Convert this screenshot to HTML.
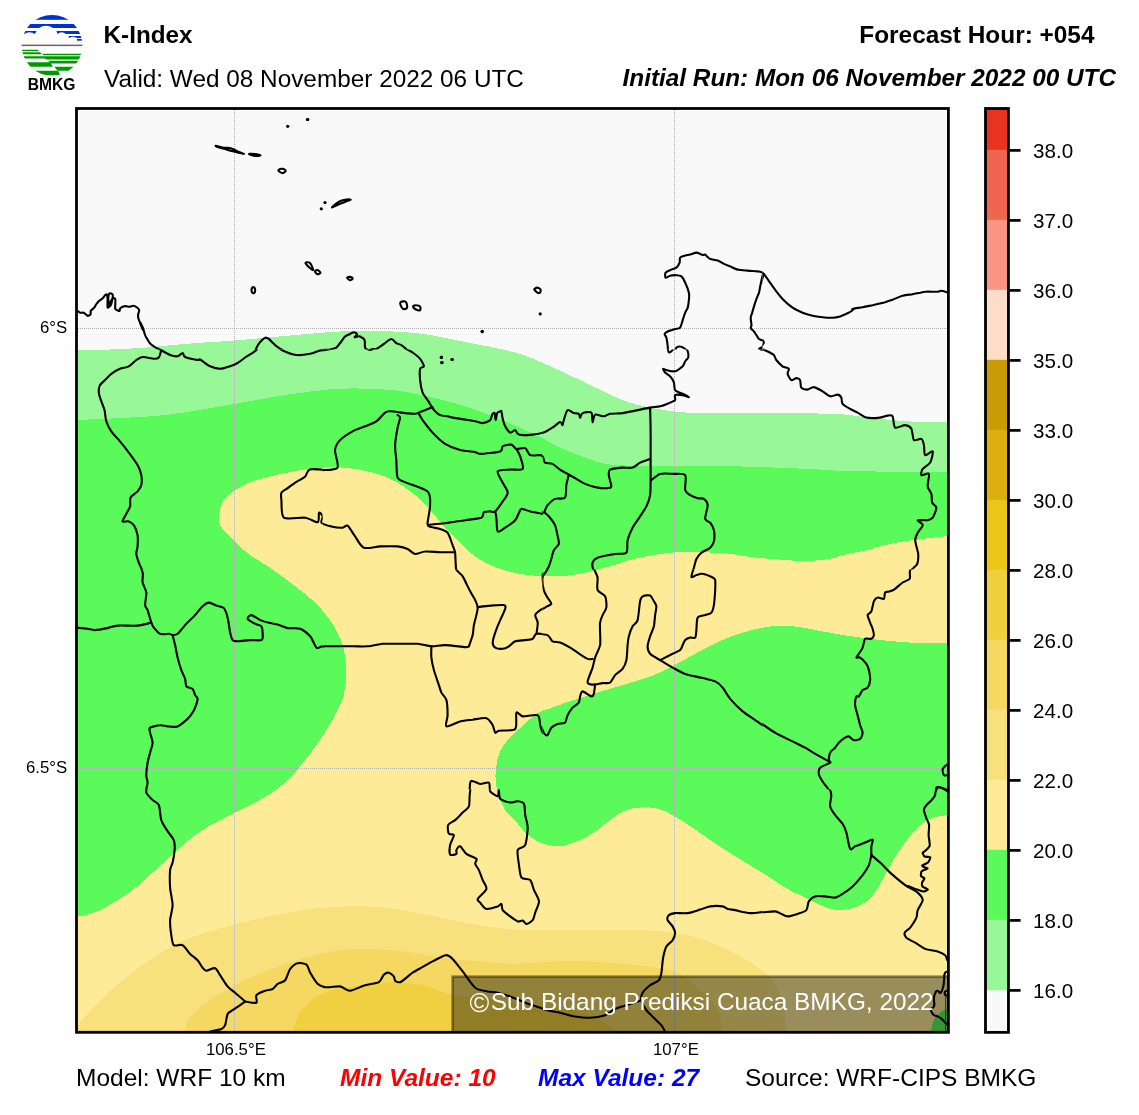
<!DOCTYPE html>
<html><head><meta charset="utf-8"><title>K-Index</title>
<style>
html,body{margin:0;padding:0;background:#fff;}
svg{display:block;}
text{font-family:"Liberation Sans",Arial,sans-serif;fill:#000;}
.t24{font-size:24.5px;}
.b{font-weight:bold;}
.i{font-style:italic;}
.cb{font-size:20.6px;}
.tk{font-size:16.8px;}
</style></head><body>
<svg width="1139" height="1115" viewBox="0 0 1139 1115">
<rect width="1139" height="1115" fill="#fff"/>

<defs><clipPath id="lc"><circle cx="52" cy="45.3" r="30.4"/></clipPath></defs>
<g clip-path="url(#lc)">
 <rect x="20" y="14" width="64" height="5.8" fill="#0033cc"/>
 <path d="M20,24 H84 V28.1 H53 Q46,23.5 39,28.1 H20 Z" fill="#0033cc"/>
 <path d="M20,31 H36.5 L35,34 Q29.5,30.5 24,34 H20 Z" fill="#0033cc"/>
 <path d="M56.5,31 H84 V34 H66 Q61.5,30.5 57.5,34 Z" fill="#0033cc"/>
 <path d="M68.5,36.1 H84 V38 H77 Q73,35.5 69,38 Z" fill="#0033cc"/>
 <rect x="77" y="38.9" width="8" height="1.8" fill="#0033cc"/>
 <rect x="20" y="44.6" width="64" height="1.5" fill="#666"/>
 <path d="M20,49.8 H37.8 L39,51 H20 Z" fill="#009900"/>
 <path d="M20,52.2 H40 L42,54.2 H20 Z" fill="#009900"/>
 <path d="M42,53.8 H84 V55.2 H43.5 Z" fill="#009900"/>
 <path d="M20,56.3 H84 V59.5 H46 L45,58.6 H20 Z" fill="#009900"/>
 <path d="M48,60.7 H84 V63.5 H51 Z" fill="#009900"/>
 <path d="M20,62.3 H50.5 L52.8,66.7 H20 Z" fill="#009900"/>
 <path d="M54.4,66.7 H84 V70.8 H57.5 Z" fill="#009900"/>
 <path d="M20,70.8 H58 L60.4,75.5 H20 Z" fill="#009900"/>
</g>
<text x="51.7" y="89.7" text-anchor="middle" style="font:bold 15.6px 'Liberation Sans',sans-serif">BMKG</text>

<text x="103.5" y="43" class="t24 b" style="font-size:24.3px">K-Index</text>
<text x="104" y="86.6" class="t24" style="font-size:24.35px">Valid: Wed 08 November 2022 06 UTC</text>
<text x="1094.5" y="42.8" class="t24 b" text-anchor="end" style="font-size:24.4px">Forecast Hour: +054</text>
<text x="1116" y="85.8" class="t24 b i" text-anchor="end" style="font-size:24.33px">Initial Run: Mon 06 November 2022 00 UTC</text>
<g id="map">
<g shape-rendering="crispEdges"><rect x="79.2" y="111.3" width="866.4" height="918.3" fill="#f9f9f9"/>
<path d="M78.0,350.5 C83.3,350.3 99.7,349.9 110.0,349.5 C120.3,349.1 131.7,348.5 140.0,348.0 C148.3,347.5 152.5,347.0 160.0,346.3 C167.5,345.6 178.3,344.6 185.0,344.0 C191.7,343.4 191.7,343.4 200.0,342.8 C208.3,342.2 220.0,341.7 235.0,340.5 C250.0,339.3 270.4,337.1 290.0,335.5 C309.6,333.9 331.7,331.4 352.5,331.0 C373.3,330.6 396.2,331.2 415.0,333.0 C433.8,334.8 448.3,338.8 465.0,342.0 C481.7,345.2 501.2,348.7 515.0,352.5 C528.8,356.3 535.8,360.0 547.5,365.0 C559.2,370.0 572.5,376.7 585.0,382.5 C597.5,388.3 611.7,395.8 622.5,400.0 C633.3,404.2 639.6,405.4 650.0,407.5 C660.4,409.6 671.7,411.6 685.0,412.5 C698.3,413.4 705.8,412.8 730.0,413.0 C754.2,413.2 807.1,413.0 830.0,413.8 C852.9,414.5 855.0,416.2 867.5,417.5 C880.0,418.8 891.8,420.4 905.0,421.2 C918.2,422.1 940.0,422.3 947.0,422.5 L947.0,1031.0 L78.0,1031.0 Z" fill="#98f898"/>
<path d="M78.0,420.0 C85.0,419.7 104.7,418.9 120.0,418.0 C135.3,417.1 150.8,416.9 170.0,414.5 C189.2,412.1 214.7,407.2 235.0,403.8 C255.3,400.3 274.5,396.5 292.0,394.0 C309.5,391.5 324.5,389.5 340.0,388.8 C355.5,388.0 372.5,388.7 385.0,389.5 C397.5,390.3 401.7,391.0 415.0,393.8 C428.3,396.5 449.2,401.3 465.0,406.2 C480.8,411.2 498.0,418.6 510.0,423.5 C522.0,428.4 528.7,431.5 537.0,435.5 C545.3,439.5 552.0,443.8 560.0,447.5 C568.0,451.2 576.7,454.7 585.0,457.5 C593.3,460.3 599.2,463.1 610.0,464.5 C620.8,465.9 630.0,465.5 650.0,465.8 C670.0,466.0 704.2,465.8 730.0,466.2 C755.8,466.8 784.2,467.9 805.0,468.8 C825.8,469.6 831.3,470.8 855.0,471.2 C878.7,471.8 931.7,471.7 947.0,471.8 L947.0,1031.0 L78.0,1031.0 Z" fill="#5afa5a"/>
<path d="M78.0,916.5 C80.0,916.0 85.1,915.5 90.0,913.8 C94.9,912.0 100.4,910.2 107.5,906.2 C114.6,902.3 125.0,895.6 132.5,890.0 C140.0,884.4 145.4,878.8 152.5,872.5 C159.6,866.2 167.9,858.8 175.0,852.5 C182.1,846.2 187.5,840.4 195.0,835.0 C202.5,829.6 211.7,824.6 220.0,820.0 C228.3,815.4 236.7,811.8 245.0,807.5 C253.3,803.2 262.5,798.9 270.0,794.0 C277.5,789.1 284.2,783.7 290.0,778.0 C295.8,772.3 300.0,766.3 305.0,760.0 C310.0,753.7 315.0,747.5 320.0,740.0 C325.0,732.5 331.0,722.5 335.0,715.0 C339.0,707.5 341.9,702.1 343.8,695.0 C345.6,687.9 346.0,679.2 346.2,672.5 C346.5,665.8 346.0,660.8 345.0,655.0 C344.0,649.2 342.5,643.3 340.0,637.5 C337.5,631.7 334.2,625.8 330.0,620.0 C325.8,614.2 320.8,608.2 315.0,602.5 C309.2,596.8 302.2,591.6 295.0,586.0 C287.8,580.4 279.5,574.2 272.0,569.0 C264.5,563.8 255.7,559.1 250.0,555.0 C244.3,550.9 241.8,547.8 238.0,544.3 C234.2,540.8 229.9,537.0 227.0,534.0 C224.1,531.0 221.8,528.8 220.5,526.0 C219.2,523.2 218.9,520.0 218.9,517.0 C218.9,514.0 219.7,510.8 220.5,508.0 C221.3,505.2 221.9,502.8 223.5,500.5 C225.1,498.2 227.6,496.0 230.0,494.0 C232.4,492.0 234.5,490.4 238.2,488.3 C241.9,486.2 246.8,483.4 252.0,481.5 C257.1,479.6 262.8,478.3 269.1,476.7 C275.4,475.1 283.6,473.3 290.0,472.0 C296.4,470.7 301.9,469.8 307.7,469.0 C313.5,468.2 318.6,467.7 325.0,467.5 C331.4,467.3 338.5,467.0 346.4,467.8 C354.3,468.6 364.4,470.3 372.5,472.5 C380.6,474.7 387.9,477.5 395.0,481.2 C402.1,485.0 409.2,490.2 415.0,495.0 C420.8,499.8 424.6,504.2 430.0,510.0 C435.4,515.8 442.8,525.0 447.5,530.0 C452.2,535.0 454.2,536.2 458.0,540.0 C461.8,543.8 464.7,548.3 470.0,552.5 C475.3,556.7 482.5,561.6 490.0,565.0 C497.5,568.4 506.2,571.1 515.0,573.0 C523.8,574.9 532.9,575.9 542.5,576.2 C552.1,576.6 561.2,576.7 572.5,575.0 C583.8,573.3 599.6,569.0 610.0,566.2 C620.4,563.5 624.6,561.0 635.0,558.8 C645.4,556.5 660.0,553.5 672.5,552.5 C685.0,551.5 700.4,552.3 710.0,552.5 C719.6,552.7 722.5,552.9 730.0,553.8 C737.5,554.6 744.6,556.4 755.0,557.5 C765.4,558.6 784.2,559.9 792.5,560.5 C800.8,561.1 798.8,561.5 805.0,561.2 C811.2,561.0 823.8,559.8 830.0,558.8 C836.2,557.7 836.2,556.5 842.5,555.0 C848.8,553.5 861.2,551.5 867.5,550.0 C873.8,548.5 873.8,547.7 880.0,546.2 C886.2,544.8 893.8,543.0 905.0,541.2 C916.2,539.5 940.0,536.9 947.0,536.0 L947.0,1031.0 L78.0,1031.0 Z" fill="#fdeb98"/>
<path d="M510.0,737.5 C514.2,733.8 527.9,720.0 535.0,715.0 C542.1,710.0 546.2,709.9 552.5,707.5 C558.8,705.1 562.9,703.6 572.5,700.5 C582.1,697.4 597.5,692.6 610.0,688.8 C622.5,684.9 637.1,681.2 647.5,677.5 C657.9,673.8 664.2,670.4 672.5,666.2 C680.8,662.1 689.2,656.9 697.5,652.5 C705.8,648.1 714.2,643.5 722.5,640.0 C730.8,636.5 739.2,633.5 747.5,631.2 C755.8,629.0 764.6,627.0 772.5,626.2 C780.4,625.5 789.3,626.2 794.8,626.5 C800.2,626.8 797.0,626.6 805.0,628.0 C813.0,629.4 830.0,633.0 842.5,635.0 C855.0,637.0 867.5,638.7 880.0,640.0 C892.5,641.3 906.3,642.4 917.5,643.0 C928.7,643.6 942.1,643.4 947.0,643.5 L947.0,815.0 C944.2,815.6 934.9,816.7 930.0,818.8 C925.1,820.8 921.7,823.5 917.5,827.5 C913.3,831.5 908.8,837.5 905.0,842.5 C901.2,847.5 898.3,852.1 895.0,857.5 C891.7,862.9 888.3,869.2 885.0,875.0 C881.7,880.8 878.3,887.9 875.0,892.5 C871.7,897.1 869.2,899.8 865.0,902.5 C860.8,905.2 855.8,907.7 850.0,908.8 C844.2,909.8 837.5,910.6 830.0,908.8 C822.5,906.9 812.5,901.0 805.0,897.5 C797.5,894.0 792.5,891.9 785.0,887.5 C777.5,883.1 768.3,876.5 760.0,871.2 C751.7,866.0 743.3,861.5 735.0,856.2 C726.7,851.0 718.3,845.6 710.0,840.0 C701.7,834.4 692.5,827.3 685.0,822.5 C677.5,817.7 670.8,813.8 665.0,811.2 C659.2,808.8 655.8,807.9 650.0,807.5 C644.2,807.1 635.8,807.3 630.0,808.8 C624.2,810.2 620.4,812.7 615.0,816.2 C609.6,819.8 603.3,826.0 597.5,830.0 C591.7,834.0 586.2,837.3 580.0,840.0 C573.8,842.7 566.7,845.8 560.0,846.2 C553.3,846.7 545.8,844.8 540.0,842.5 C534.2,840.2 529.2,836.2 525.0,832.5 C520.8,828.8 518.3,823.8 515.0,820.0 C511.7,816.2 507.9,814.6 505.0,810.0 C502.1,805.4 499.1,798.3 497.5,792.5 C495.9,786.7 495.4,780.9 495.5,775.0 C495.6,769.1 496.8,761.8 498.0,757.0 C499.2,752.2 501.0,749.2 503.0,746.0 C505.0,742.8 508.8,738.9 510.0,737.5 Z" fill="#5afa5a"/>
<path d="M78.0,1025.5 C81.7,1021.2 90.9,1008.8 100.0,1000.0 C109.1,991.2 121.7,980.8 132.5,972.5 C143.3,964.2 154.6,956.0 165.0,950.0 C175.4,944.0 183.8,940.4 195.0,936.2 C206.2,932.1 220.0,928.3 232.5,925.0 C245.0,921.7 258.8,918.7 270.0,916.2 C281.2,913.8 290.4,912.0 300.0,910.5 C309.6,909.0 316.7,908.2 327.5,907.5 C338.3,906.8 352.5,905.8 365.0,906.2 C377.5,906.7 390.0,908.1 402.5,910.0 C415.0,911.9 427.5,915.0 440.0,917.5 C452.5,920.0 465.0,923.0 477.5,925.0 C490.0,927.0 502.5,928.7 515.0,929.5 C527.5,930.3 540.8,929.9 552.5,930.0 C564.2,930.1 571.2,930.0 585.0,930.0 C598.8,930.0 620.4,929.6 635.0,930.0 C649.6,930.4 660.8,930.8 672.5,932.5 C684.2,934.2 695.4,936.9 705.0,940.0 C714.6,943.1 722.5,947.3 730.0,951.0 C737.5,954.7 743.8,958.0 750.0,962.0 C756.2,966.0 762.9,970.3 767.5,975.0 C772.1,979.7 774.8,984.6 777.5,990.0 C780.2,995.4 782.3,1000.7 783.8,1007.5 C785.2,1014.3 785.6,1027.1 786.0,1031.0 L786.0,1032.0 L78.0,1032.0 Z" fill="#f8e07c"/>
<path d="M185.0,1031.0 C185.8,1028.8 185.8,1022.7 190.0,1017.5 C194.2,1012.3 200.8,1006.2 210.0,1000.0 C219.2,993.8 232.9,985.8 245.0,980.0 C257.1,974.2 270.0,969.4 282.5,965.0 C295.0,960.6 308.0,956.4 320.0,953.8 C332.0,951.1 341.0,949.4 354.8,949.0 C368.5,948.6 388.3,949.8 402.5,951.2 C416.7,952.7 427.5,955.8 440.0,957.5 C452.5,959.2 465.0,960.2 477.5,961.2 C490.0,962.3 502.5,963.7 515.0,963.8 C527.5,963.8 540.8,961.9 552.5,961.5 C564.2,961.1 573.3,960.9 585.0,961.2 C596.7,961.6 610.8,962.7 622.5,963.8 C634.2,964.8 645.4,965.8 655.0,967.5 C664.6,969.2 672.5,970.0 680.0,973.8 C687.5,977.5 693.8,984.0 700.0,990.0 C706.2,996.0 713.8,1003.2 717.5,1010.0 C721.2,1016.8 721.7,1027.5 722.5,1031.0 L722.5,1032.0 L78.0,1032.0 Z" fill="#f4d862"/>
<path d="M293.0,1031.0 C294.2,1027.9 296.3,1018.1 300.0,1012.5 C303.7,1006.9 309.6,1001.2 315.0,997.5 C320.4,993.8 326.0,991.9 332.5,990.0 C339.0,988.1 344.4,987.5 354.0,986.2 C363.6,985.0 378.6,982.7 390.0,982.5 C401.4,982.3 412.1,982.9 422.5,985.0 C432.9,987.1 441.2,992.5 452.5,995.0 C463.8,997.5 477.1,998.3 490.0,1000.0 C502.9,1001.7 516.7,1003.3 530.0,1005.0 C543.3,1006.7 558.3,1007.5 570.0,1010.0 C581.7,1012.5 592.5,1016.5 600.0,1020.0 C607.5,1023.5 612.5,1029.2 615.0,1031.0 L615.0,1032.0 L78.0,1032.0 Z" fill="#f0d040"/>
<path d="M947.0,1009.0 C945.8,1009.6 942.2,1010.7 940.0,1012.5 C937.8,1014.3 935.2,1016.9 933.8,1020.0 C932.3,1023.1 931.7,1029.2 931.2,1031.0 L947.0,1031.0 Z" fill="#5afa5a"/></g>
<g stroke="#b0b0b0" stroke-width="1" stroke-dasharray="1,1" fill="none">
<line x1="234.5" y1="110" x2="234.5" y2="1031"/>
<line x1="674.5" y1="110" x2="674.5" y2="1031"/>
<line x1="78" y1="328.5" x2="947" y2="328.5"/>
<line x1="78" y1="768.5" x2="947" y2="768.5"/>
</g>
<defs><clipPath id="c0"><rect x="0" y="0" width="322.5" height="349.5"/></clipPath><clipPath id="c1"><rect x="322.5" y="0" width="220" height="349.5"/></clipPath><clipPath id="c2"><rect x="542.5" y="0" width="220" height="349.5"/></clipPath><clipPath id="c3"><rect x="762.5" y="0" width="376.5" height="349.5"/></clipPath><clipPath id="c4"><rect x="0" y="349.5" width="322.5" height="220"/></clipPath><clipPath id="c5"><rect x="322.5" y="349.5" width="220" height="220"/></clipPath><clipPath id="c6"><rect x="542.5" y="349.5" width="220" height="220"/></clipPath><clipPath id="c7"><rect x="762.5" y="349.5" width="376.5" height="220"/></clipPath><clipPath id="c8"><rect x="0" y="569.5" width="322.5" height="220"/></clipPath><clipPath id="c9"><rect x="322.5" y="569.5" width="220" height="220"/></clipPath><clipPath id="c10"><rect x="542.5" y="569.5" width="220" height="220"/></clipPath><clipPath id="c11"><rect x="762.5" y="569.5" width="376.5" height="220"/></clipPath><clipPath id="c12"><rect x="0" y="789.5" width="322.5" height="325.5"/></clipPath><clipPath id="c13"><rect x="322.5" y="789.5" width="220" height="325.5"/></clipPath><clipPath id="c14"><rect x="542.5" y="789.5" width="220" height="325.5"/></clipPath><clipPath id="c15"><rect x="762.5" y="789.5" width="376.5" height="325.5"/></clipPath></defs><g fill="none" stroke="#000" stroke-width="2.1" stroke-linejoin="round" stroke-linecap="round"><g clip-path="url(#c0)"><path d="M140.8,323.2 C141.1,323.9 142.5,326.6 143.1,328.2 C143.6,329.8 144.5,333.7 145.1,335.2 C145.7,336.7 146.8,338.5 147.6,339.7 C148.3,340.9 149.6,343.0 150.6,344.0 C151.6,345.0 153.8,346.4 155.1,347.2 C156.3,348.0 158.7,349.0 160.1,349.7 C161.4,350.5 163.7,352.0 165.1,352.7 C166.4,353.5 168.8,354.7 170.1,355.2 C171.4,355.7 173.8,356.3 175.1,356.5 C176.4,356.6 179.2,356.5 180.1,356.2 C181.0,355.9 181.6,354.6 182.1,354.2 C182.6,353.8 183.4,353.0 183.8,353.2 C184.3,353.4 184.9,355.2 185.6,355.7 C186.3,356.3 187.8,356.9 188.9,357.2 C190.0,357.6 192.7,358.0 193.9,358.2 C195.0,358.5 196.8,358.7 197.6,359.0 C198.4,359.2 199.1,359.7 200.1,360.2 C201.1,360.8 203.8,362.4 205.1,363.2 C206.5,364.1 208.8,365.8 210.1,366.5 C211.5,367.2 213.8,367.9 215.1,368.2 C216.5,368.6 218.8,368.9 220.1,369.0 C221.5,369.1 223.8,369.0 225.1,368.7 C226.5,368.5 228.8,367.7 230.1,367.2 C231.5,366.8 233.8,366.0 235.1,365.2 C236.5,364.5 238.8,362.5 240.1,361.5 C241.5,360.5 243.8,358.6 245.2,357.7 C246.5,356.8 248.8,355.7 250.2,354.7 C251.5,353.7 254.1,351.6 255.2,350.2 C256.2,348.9 257.3,346.0 258.2,344.7 C259.0,343.4 260.5,341.6 261.4,340.7 C262.4,339.8 264.2,337.9 265.2,337.7 C266.2,337.5 267.9,338.3 268.9,339.0 C269.9,339.6 271.5,341.6 272.7,342.7 C273.8,343.8 276.3,346.2 277.7,347.2 C279.0,348.2 281.4,349.5 282.7,350.2 C284.0,351.0 286.4,352.1 287.7,352.7 C289.0,353.3 291.4,354.4 292.7,354.7 C294.0,355.1 296.2,355.2 297.7,355.2 C299.2,355.2 302.3,354.9 304.0,354.7 C305.6,354.6 308.7,354.3 310.2,354.0 C311.7,353.6 313.9,352.7 315.2,352.2 C316.5,351.7 318.7,350.6 320.2,350.2 C321.7,349.9 324.8,349.7 326.5,349.5 C328.1,349.3 331.3,349.1 332.7,348.7 C334.2,348.3 336.1,347.3 337.2,346.5 C338.4,345.6 340.4,343.4 341.5,342.2 C342.6,341.0 344.2,338.3 345.2,337.2 C346.2,336.1 348.0,334.6 349.0,334.0 C350.0,333.3 351.9,332.4 352.7,332.2 C353.5,332.0 354.7,332.6 355.0,332.7"/><path d="M161.3,350.2 C161.2,350.7 160.4,353.1 160.1,354.0 C159.7,354.8 159.5,355.9 158.8,356.5 C158.2,357.1 156.4,358.3 155.1,358.5 C153.7,358.6 150.5,357.9 148.8,357.7 C147.2,357.6 143.9,357.2 142.6,357.2 C141.2,357.3 139.6,357.8 138.8,358.2 C138.0,358.6 137.1,359.6 136.3,360.2 C135.5,360.9 133.6,362.4 132.6,363.2 C131.6,364.1 130.1,365.8 128.8,366.5 C127.5,367.2 124.0,367.8 122.5,368.5 C121.0,369.2 118.9,370.8 117.5,371.5 C116.2,372.2 113.9,373.2 112.5,374.0 C111.2,374.8 108.2,377.2 107.5,377.7"/></g>
<path d="M215.9,145.8 C216.7,145.9 220.3,147.2 222.6,147.5 C225.0,147.9 228.3,147.7 230.1,148.0 C232.0,148.4 232.6,149.0 233.9,149.5 C235.1,150.1 236.0,150.8 237.6,151.5 C239.3,152.3 243.5,153.5 243.9,153.8 C244.3,154.0 242.0,153.5 240.1,153.0 C238.3,152.6 235.1,152.0 232.6,151.3 C230.1,150.6 227.6,149.8 225.1,149.0 C222.6,148.3 219.2,147.6 217.6,147.0 C216.1,146.5 215.0,145.7 215.9,145.8Z"/><path d="M249.7,153.8 C250.6,153.7 253.3,153.8 255.2,154.0 C257.0,154.3 260.7,155.0 260.7,155.3 C260.7,155.6 257.0,156.2 255.2,156.0 C253.3,155.9 250.6,154.9 249.7,154.5 C248.7,154.2 248.7,153.9 249.7,153.8Z"/><path d="M278.9,169.6 C279.6,169.1 281.6,168.6 282.7,168.8 C283.8,169.0 285.7,170.1 285.7,170.8 C285.7,171.5 283.8,173.0 282.7,173.1 C281.6,173.1 279.6,171.9 278.9,171.3 C278.3,170.7 278.3,170.0 278.9,169.6Z"/><path d="M251.9,288.2 C252.2,287.3 253.4,286.8 253.9,287.2 C254.5,287.5 255.2,289.2 255.2,290.2 C255.2,291.2 254.5,292.8 253.9,293.2 C253.4,293.5 252.2,293.0 251.9,292.2 C251.6,291.3 251.6,289.0 251.9,288.2Z"/><circle cx="287.7" cy="126.3" r="1.6" fill="#000" stroke="none"/><circle cx="307.7" cy="119.5" r="1.6" fill="#000" stroke="none"/>
<g clip-path="url(#c1)"><path d="M290.0,353.2 C291.3,353.5 297.3,355.1 300.0,355.2 C302.7,355.3 307.3,354.6 310.0,354.0 C312.7,353.3 317.4,350.8 320.0,350.2 C322.7,349.6 327.9,349.8 330.0,349.5 C332.2,349.1 334.8,348.8 336.3,347.7 C337.8,346.6 340.1,343.0 341.3,341.5 C342.5,340.0 343.9,337.5 345.0,336.5 C346.2,335.5 348.9,334.5 350.1,334.0 C351.2,333.4 352.9,332.2 353.8,332.2 C354.7,332.2 357.0,333.3 357.1,334.0 C357.2,334.6 354.6,336.9 354.6,337.2 C354.6,337.5 356.3,336.6 357.1,336.5 C357.8,336.4 359.1,336.0 360.1,336.5 C361.1,337.0 363.9,338.7 364.6,340.2 C365.2,341.7 364.5,346.4 365.1,347.7 C365.6,349.1 367.8,350.1 368.8,350.2 C369.8,350.4 371.6,349.1 372.6,349.0 C373.6,348.8 374.8,349.6 376.3,349.0 C377.8,348.3 381.8,345.3 383.8,344.0 C385.8,342.6 389.7,339.1 391.3,339.0 C393.0,338.9 395.0,342.4 396.3,343.2 C397.7,344.0 399.8,344.3 401.3,345.2 C402.8,346.1 405.9,348.9 407.6,350.2 C409.3,351.6 412.2,353.9 413.9,355.2 C415.5,356.6 418.8,358.7 420.1,360.2 C421.4,361.7 423.2,365.5 423.9,366.5 C424.5,367.5 425.6,367.2 425.1,367.7 C424.6,368.2 420.8,368.7 420.1,370.2 C419.4,371.7 419.7,377.8 419.6,379.0"/></g>
<path d="M332.0,207.6 C331.6,207.4 335.6,203.8 337.5,202.6 C339.5,201.3 341.6,200.6 343.8,200.1 C346.0,199.6 350.1,199.4 350.6,199.6 C351.0,199.8 348.1,200.6 346.3,201.3 C344.5,202.0 342.4,202.8 340.0,203.8 C337.7,204.9 332.5,207.8 332.0,207.6Z"/><path d="M305.5,263.1 C305.4,262.2 308.4,262.1 309.5,262.6 C310.6,263.2 311.4,265.1 312.0,266.4 C312.6,267.6 313.4,269.9 313.0,270.1 C312.7,270.4 311.3,269.3 310.0,268.1 C308.8,267.0 305.6,264.1 305.5,263.1Z"/><path d="M315.0,271.4 C315.0,270.7 316.6,269.9 317.5,270.1 C318.4,270.4 320.5,272.0 320.5,272.7 C320.5,273.3 318.4,274.4 317.5,274.2 C316.6,273.9 315.0,272.1 315.0,271.4Z"/><path d="M347.1,277.7 C347.1,277.1 349.1,276.7 350.1,276.9 C351.0,277.1 352.6,278.1 352.6,278.7 C352.6,279.2 351.0,280.3 350.1,280.2 C349.1,280.0 347.1,278.2 347.1,277.7Z"/><path d="M400.6,302.2 C401.4,301.6 404.5,300.8 405.6,301.7 C406.7,302.6 407.5,306.5 407.1,307.7 C406.7,308.9 404.2,309.4 403.1,308.9 C402.0,308.5 401.0,306.3 400.6,305.2 C400.2,304.1 399.8,302.8 400.6,302.2Z"/><path d="M413.1,306.4 C413.1,305.7 415.2,305.1 416.4,305.2 C417.5,305.2 419.5,305.8 420.1,306.7 C420.7,307.5 420.7,309.7 420.1,310.2 C419.5,310.7 417.5,310.3 416.4,309.7 C415.2,309.1 413.1,307.2 413.1,306.4Z"/><path d="M534.7,288.9 C535.2,288.5 536.7,287.5 537.7,287.7 C538.7,287.9 540.5,289.2 540.7,290.2 C540.9,291.1 540.0,293.2 539.0,293.2 C538.0,293.2 535.4,290.9 534.7,290.2 C534.0,289.5 534.2,289.3 534.7,288.9Z"/><circle cx="307.5" cy="119.5" r="1.6" fill="#000" stroke="none"/><circle cx="321.3" cy="208.8" r="1.6" fill="#000" stroke="none"/><circle cx="325.0" cy="202.6" r="1.6" fill="#000" stroke="none"/><circle cx="540.2" cy="313.9" r="1.6" fill="#000" stroke="none"/><circle cx="482.2" cy="331.7" r="1.6" fill="#000" stroke="none"/><circle cx="441.4" cy="357.2" r="1.6" fill="#000" stroke="none"/><circle cx="441.9" cy="362.7" r="1.6" fill="#000" stroke="none"/><circle cx="452.1" cy="359.5" r="1.6" fill="#000" stroke="none"/>
<g clip-path="url(#c2)"><path d="M663.1,368.2 C663.4,368.5 664.2,369.9 665.1,370.2 C666.1,370.6 668.8,370.9 670.1,370.7 C671.5,370.6 673.8,369.5 675.1,369.0 C676.5,368.5 679.1,367.9 680.1,367.2 C681.2,366.6 682.0,364.7 682.7,364.0 C683.3,363.2 684.4,362.3 685.2,361.5 C685.9,360.6 687.8,358.9 688.2,357.7 C688.6,356.6 688.6,353.9 688.2,352.7 C687.8,351.6 686.2,349.8 685.2,349.0 C684.1,348.1 681.3,346.6 680.1,346.5 C679.0,346.3 677.1,347.2 676.4,347.7 C675.7,348.2 676.0,349.6 675.1,350.2 C674.3,350.9 671.1,352.7 670.1,352.7 C669.2,352.7 668.5,351.2 668.1,350.2 C667.8,349.2 667.9,346.9 667.6,345.2 C667.4,343.5 666.8,339.2 666.4,337.7 C666.0,336.2 664.5,334.8 664.6,334.0 C664.8,333.1 666.7,332.0 667.6,331.5 C668.5,331.0 670.4,330.5 671.4,330.2 C672.4,329.9 674.0,329.3 675.1,329.0 C676.3,328.6 679.1,328.9 680.1,327.7 C681.2,326.5 682.0,322.2 682.7,320.2 C683.3,318.2 684.5,314.4 685.2,312.7 C685.8,311.0 687.2,309.4 687.7,307.7 C688.2,306.0 688.7,302.2 688.9,300.2 C689.1,298.2 689.4,295.0 688.9,292.7 C688.4,290.3 686.2,284.8 685.2,282.7 C684.2,280.5 682.6,277.4 681.4,276.4 C680.2,275.4 677.9,275.3 676.4,275.2 C674.9,275.1 671.6,275.3 670.1,275.7 C668.7,276.0 666.2,278.1 665.6,277.7 C665.0,277.3 664.9,273.7 665.6,272.7 C666.4,271.6 670.0,270.3 671.4,269.6 C672.8,269.0 675.3,268.6 676.4,267.6 C677.5,266.7 679.1,264.0 679.6,262.6 C680.1,261.3 679.4,258.6 680.1,257.6 C680.9,256.7 683.8,256.0 685.2,255.6 C686.5,255.2 688.7,255.0 690.2,254.6 C691.7,254.2 695.1,252.7 696.4,252.6 C697.7,252.5 699.3,253.6 700.2,253.9 C701.0,254.2 702.0,255.0 702.7,255.1 C703.3,255.2 704.5,254.4 705.2,254.6 C705.8,254.9 707.0,256.6 707.7,257.1 C708.3,257.7 708.8,258.4 710.2,258.9 C711.5,259.4 715.8,260.0 717.7,260.6 C719.5,261.3 722.3,263.1 723.9,263.9 C725.6,264.7 728.4,265.6 730.2,266.4 C732.0,267.2 735.4,269.1 737.7,269.6 C740.0,270.2 745.0,270.4 747.7,270.6 C750.4,270.9 755.7,271.1 757.7,271.4 C759.7,271.7 761.4,271.7 762.7,272.7 C764.1,273.7 766.4,277.1 767.7,278.9 C769.1,280.7 771.4,284.5 772.7,286.4 C774.1,288.3 776.4,291.5 777.7,293.2 C779.1,294.8 781.4,297.5 782.7,298.9 C784.1,300.4 786.1,302.7 787.7,303.9 C789.4,305.2 794.0,307.6 795.0,308.2"/><path d="M763.2,273.2 C763.0,274.1 761.9,278.4 761.5,280.2 C761.1,281.9 760.6,284.7 760.2,286.4 C759.9,288.1 759.5,291.0 759.0,292.7 C758.5,294.3 757.1,297.1 756.5,298.9 C755.8,300.8 754.5,304.6 754.0,306.4 C753.4,308.3 752.6,311.2 752.2,312.7 C751.8,314.2 750.8,316.0 750.7,317.7 C750.6,319.4 751.5,323.8 751.5,325.2 C751.5,326.6 750.4,327.4 750.7,328.2 C751.0,329.0 753.2,330.5 754.0,331.5 C754.7,332.4 755.8,334.2 756.5,335.2 C757.1,336.2 758.0,338.1 759.0,339.0 C760.0,339.8 763.5,340.5 764.0,341.5 C764.5,342.5 763.4,345.5 762.7,346.5 C762.1,347.5 758.6,348.5 759.0,349.0 C759.3,349.5 763.7,349.7 765.2,350.2 C766.7,350.7 769.1,352.1 770.2,352.7 C771.4,353.4 773.1,354.2 774.0,355.2 C774.8,356.2 775.6,359.1 776.5,360.2 C777.3,361.4 779.4,362.8 780.2,364.0 C781.1,365.1 781.9,368.2 782.7,369.0 C783.6,369.8 785.7,369.7 786.5,370.2 C787.3,370.7 788.2,371.9 789.0,372.7 C789.8,373.6 791.9,375.8 792.7,376.5 C793.5,377.2 794.7,377.6 795.0,377.7"/></g>

<g clip-path="url(#c3)"><path d="M730.0,265.6 C731.0,266.1 735.5,268.3 737.5,268.9 C739.5,269.5 742.7,269.8 745.0,270.1 C747.3,270.5 753.0,271.1 755.0,271.4 C757.0,271.7 758.9,271.8 760.0,272.2 C761.2,272.5 762.4,272.5 763.8,273.9 C765.1,275.3 768.4,280.3 770.0,282.7 C771.7,285.0 774.6,289.2 776.3,291.4 C778.0,293.6 780.4,296.8 782.5,298.9 C784.7,301.1 789.9,305.8 792.6,307.7 C795.2,309.5 799.9,311.6 802.6,312.7 C805.2,313.8 809.9,315.1 812.6,315.7 C815.2,316.3 819.9,316.9 822.6,317.2 C825.3,317.5 830.3,317.8 832.6,317.7 C834.9,317.6 838.1,317.0 840.1,316.4 C842.1,315.8 845.9,314.0 847.6,313.2 C849.3,312.4 851.9,310.8 852.6,310.2 C853.3,309.6 851.3,309.3 852.6,308.9 C853.9,308.5 859.9,307.7 862.6,307.2 C865.3,306.7 869.6,305.8 872.6,305.2 C875.6,304.5 882.5,302.9 885.1,302.2 C887.8,301.4 890.3,300.5 892.6,299.7 C895.0,298.8 900.0,296.4 902.7,295.7 C905.3,294.9 910.3,294.6 912.7,294.2 C915.0,293.8 918.5,293.0 920.2,292.7 C921.8,292.3 922.8,291.8 925.2,291.7 C927.5,291.5 935.5,291.8 937.7,291.7 C939.9,291.5 940.4,290.7 941.4,290.7 C942.4,290.7 944.3,291.4 945.2,291.7 C946.1,291.9 947.8,292.5 948.2,292.7"/><path d="M763.8,273.9 C763.4,275.1 761.8,280.2 761.3,282.7 C760.8,285.2 760.7,290.3 760.0,292.7 C759.4,295.0 757.1,298.0 756.3,300.2 C755.4,302.3 754.4,306.6 753.8,308.9 C753.1,311.3 751.6,315.2 751.3,317.7 C750.9,320.2 750.8,325.7 751.3,327.7 C751.8,329.7 754.2,331.4 755.0,332.7 C755.9,334.0 756.5,336.7 757.5,337.7 C758.5,338.7 761.7,339.5 762.5,340.2 C763.4,340.9 763.9,341.9 763.8,342.7 C763.6,343.5 761.8,345.6 761.3,346.5 C760.8,347.3 759.5,348.5 760.0,349.0 C760.5,349.5 763.4,349.6 765.0,350.2 C766.7,350.9 771.0,352.6 772.5,354.0 C774.0,355.3 775.1,358.7 776.3,360.2 C777.5,361.7 780.1,364.1 781.3,365.2 C782.5,366.4 784.0,368.3 785.0,369.0 C786.0,369.7 788.1,369.6 788.8,370.2 C789.5,370.9 789.6,373.1 790.1,374.0 C790.6,374.9 791.6,376.7 792.6,377.2 C793.6,377.7 796.2,377.5 797.6,377.7 C798.9,378.0 801.9,378.8 802.6,379.0"/></g>

<g clip-path="url(#c4)"><path d="M161.3,350.0 C161.0,351.0 159.8,356.4 158.8,357.5 C157.8,358.7 156.0,358.9 153.8,358.8 C151.7,358.7 144.9,356.9 142.6,357.0 C140.2,357.2 138.1,358.8 136.3,360.0 C134.5,361.3 131.0,365.1 128.8,366.3 C126.6,367.5 122.4,367.8 120.0,368.8 C117.7,369.8 113.3,372.3 111.3,373.8 C109.3,375.3 106.5,378.6 105.0,380.1 C103.5,381.6 100.9,383.4 100.0,385.1 C99.2,386.7 98.6,390.4 98.8,392.6 C98.9,394.7 100.5,399.0 101.3,401.3 C102.0,403.7 103.9,407.4 104.5,410.1 C105.2,412.7 105.4,418.5 106.3,421.3 C107.2,424.2 109.5,428.7 111.3,431.3 C113.1,434.0 117.7,438.5 120.0,441.4 C122.4,444.2 126.5,449.4 128.8,452.6 C131.1,455.8 135.9,462.1 137.6,465.1 C139.2,468.1 140.8,472.5 141.3,475.1 C141.8,477.8 141.8,483.0 141.3,485.1 C140.8,487.3 138.9,489.9 137.6,491.4 C136.2,492.9 132.3,495.2 131.3,496.4 C130.3,497.6 130.2,498.8 130.1,500.2 C129.9,501.5 130.6,504.6 130.1,506.4 C129.6,508.2 127.3,511.9 126.3,513.9 C125.3,515.9 122.2,520.4 122.5,521.4 C122.9,522.4 127.3,520.9 128.8,521.4 C130.3,521.9 132.6,523.3 133.8,525.2 C135.0,527.0 137.1,532.4 137.6,535.2 C138.1,538.0 137.7,543.9 137.6,546.4 C137.4,549.0 136.1,551.8 136.3,554.0 C136.5,556.1 138.0,560.4 138.8,562.7 C139.6,565.0 142.1,569.1 142.6,571.5 C143.1,573.8 142.2,578.2 142.6,580.2 C142.9,582.2 144.4,584.1 145.1,586.5 C145.7,588.8 147.2,596.2 147.6,597.7"/><path d="M137.6,320.0 C138.6,322.0 143.4,331.8 145.1,335.0 C146.7,338.2 148.1,341.8 150.1,343.8 C152.1,345.7 157.4,348.0 160.1,349.5 C162.7,351.0 167.8,354.1 170.1,355.0 C172.4,355.9 175.9,356.5 177.6,356.3 C179.3,356.0 181.6,352.9 182.6,353.0 C183.6,353.1 183.1,356.1 185.1,357.0 C187.1,358.0 195.6,359.7 197.6,360.0 C199.6,360.4 198.4,358.7 200.1,359.5 C201.8,360.4 207.5,365.1 210.1,366.3 C212.8,367.5 217.5,368.8 220.1,368.8 C222.8,368.8 227.8,367.1 230.1,366.3 C232.5,365.5 235.6,364.2 237.6,363.0 C239.6,361.9 242.7,359.3 245.2,357.5 C247.7,355.8 254.6,351.9 256.4,350.0 C258.2,348.2 257.7,345.4 258.9,343.8 C260.1,342.2 263.3,338.0 265.2,338.0 C267.0,338.0 270.3,342.1 272.7,343.8 C275.0,345.4 279.5,349.0 282.7,350.5 C285.9,352.0 292.8,354.6 296.4,355.0 C300.1,355.5 307.0,354.4 310.2,353.8 C313.4,353.2 317.2,351.2 320.2,350.5 C323.2,349.9 330.1,349.7 332.7,348.8 C335.4,347.9 338.2,345.6 340.2,343.8 C342.2,341.9 346.1,336.5 347.7,335.0 C349.4,333.5 352.1,332.8 352.7,332.5"/><path d="M355.0,430.1 C353.7,430.6 347.5,432.3 345.2,433.8 C342.9,435.4 339.1,439.4 337.7,441.4 C336.3,443.4 335.1,446.9 334.7,448.9 C334.4,450.9 334.8,453.9 335.2,456.4 C335.6,458.9 339.1,465.9 337.7,467.6 C336.4,469.4 329.0,469.4 325.2,469.6 C321.5,469.9 312.4,468.5 309.7,469.4 C307.0,470.3 307.1,474.6 305.2,476.4 C303.3,478.2 297.5,481.1 295.2,482.6 C292.9,484.2 289.5,486.8 287.7,488.1 C285.9,489.5 282.3,491.1 281.4,492.7 C280.6,494.3 281.1,496.8 281.4,500.2 C281.8,503.5 280.8,515.3 283.9,517.7 C287.1,520.0 300.7,517.1 305.2,517.7 C309.7,518.3 315.9,522.8 317.7,522.2 C319.6,521.5 318.3,513.4 319.0,512.7 C319.6,511.9 322.4,515.1 322.7,516.4 C323.1,517.8 320.5,521.5 321.5,522.7 C322.5,523.8 327.9,524.5 330.2,525.2 C332.6,525.8 336.8,527.6 339.0,527.7 C341.2,527.7 344.4,524.7 346.5,525.7 C348.6,526.6 353.9,533.5 355.0,534.7"/></g>

<g clip-path="url(#c5)"><path d="M290.0,353.8 C291.7,353.9 299.2,355.3 302.5,355.0 C305.8,354.8 312.4,352.6 315.0,352.0 C317.7,351.4 320.0,351.1 322.5,350.5 C325.0,350.0 331.1,349.4 333.8,348.0 C336.5,346.6 340.7,341.8 342.5,340.0 C344.4,338.2 346.2,335.5 347.6,334.5 C348.9,333.5 351.4,332.8 352.6,332.5 C353.7,332.2 355.6,331.8 356.3,332.0 C357.0,332.2 358.2,333.3 358.1,334.0 C358.0,334.7 355.5,336.7 355.6,337.0 C355.7,337.3 357.9,335.9 358.8,336.0 C359.7,336.1 361.7,336.6 362.6,337.5 C363.4,338.4 364.6,341.2 365.1,342.5 C365.6,343.9 365.6,346.5 366.3,347.5 C367.0,348.5 368.9,350.0 370.1,350.0 C371.2,350.1 373.4,348.9 375.1,348.0 C376.7,347.2 380.4,344.9 382.6,343.8 C384.7,342.6 389.7,339.7 391.3,339.5 C393.0,339.4 393.6,341.5 395.1,342.5 C396.6,343.5 400.3,345.7 402.6,347.0 C404.9,348.4 410.3,351.0 412.6,352.5 C414.9,354.1 418.6,356.9 420.1,358.8 C421.6,360.6 423.9,365.0 423.9,366.3 C423.9,367.6 420.6,367.0 420.1,368.8 C419.6,370.6 419.8,376.9 420.1,380.1 C420.4,383.2 421.6,389.9 422.6,392.6 C423.6,395.2 426.5,398.2 427.6,400.1 C428.8,401.9 430.4,404.8 431.4,406.3 C432.4,407.8 434.0,410.2 435.1,411.3 C436.3,412.5 438.5,414.4 440.1,415.1 C441.8,415.8 446.0,416.0 447.6,416.3 C449.3,416.7 450.3,417.2 452.6,417.6 C455.0,418.0 462.2,419.1 465.2,419.6 C468.2,420.1 472.8,420.9 475.2,421.3 C477.5,421.8 480.7,423.3 482.7,423.1 C484.7,422.9 488.9,421.2 490.2,420.1 C491.4,419.0 491.6,415.5 492.2,414.6 C492.8,413.6 494.2,412.3 494.7,413.1 C495.1,413.8 495.3,420.1 495.7,420.1 C496.0,420.1 496.6,414.2 497.2,413.1 C497.7,411.9 499.1,411.8 499.7,411.6 C500.3,411.3 501.0,410.4 501.4,411.3 C501.8,412.3 502.2,416.8 502.7,418.8 C503.2,420.8 504.2,424.5 505.2,426.3 C506.2,428.2 508.9,432.1 510.2,432.6 C511.5,433.1 514.2,429.9 515.2,430.1 C516.2,430.3 516.7,433.2 517.7,433.8 C518.7,434.5 520.7,435.0 522.7,435.1 C524.7,435.2 530.0,434.9 532.7,434.6 C535.4,434.3 540.1,433.7 542.7,432.6 C545.4,431.5 550.4,427.8 552.7,426.3 C555.1,424.8 558.9,422.5 560.2,421.3 C561.6,420.2 562.1,418.8 562.7,417.6 C563.4,416.4 564.6,413.6 565.2,412.6 C565.9,411.5 566.9,409.6 567.7,409.6 C568.6,409.6 570.5,412.1 571.5,412.6 C572.5,413.0 574.5,413.0 575.0,413.1"/><path d="M290.0,486.4 C291.3,485.6 297.5,482.4 300.0,480.1 C302.5,477.9 305.8,471.0 308.8,469.6 C311.8,468.3 318.7,470.4 322.5,470.1 C326.4,469.9 335.9,470.3 337.5,467.6 C339.2,465.0 334.7,453.8 335.0,450.1 C335.4,446.4 337.7,442.6 340.0,440.1 C342.4,437.6 349.2,433.2 352.6,431.3 C355.9,429.5 361.9,427.7 365.1,426.3 C368.2,425.0 373.7,423.2 376.3,421.3 C379.0,419.5 383.2,413.9 385.1,412.6 C386.9,411.2 387.4,411.3 390.1,411.3 C392.8,411.4 401.8,412.7 405.1,413.1 C408.4,413.4 413.1,414.0 415.1,413.8 C417.1,413.7 417.8,413.0 420.1,412.1 C422.4,411.2 431.0,407.7 432.6,407.1"/><path d="M397.6,415.1 C397.9,415.4 400.1,415.9 400.1,417.6 C400.1,419.3 398.3,423.9 397.6,427.6 C396.9,431.3 395.3,440.8 395.1,445.1 C394.9,449.4 396.0,455.8 396.3,460.1 C396.7,464.5 396.4,474.7 397.6,477.6 C398.8,480.6 401.1,480.3 405.1,482.1 C409.1,484.0 424.3,488.3 427.6,491.4 C431.0,494.5 430.1,501.0 430.1,505.2 C430.1,509.3 427.8,519.8 427.6,522.7 C427.5,525.5 427.2,525.6 428.9,526.4 C430.5,527.3 437.6,528.1 440.1,528.9 C442.6,529.8 446.0,530.5 447.6,532.7 C449.3,534.9 451.6,542.5 452.6,545.2 C453.6,547.9 454.6,549.4 455.1,552.7 C455.6,556.0 455.4,567.2 456.4,570.2 C457.4,573.2 461.2,573.6 462.7,575.2 C464.2,576.9 466.7,580.7 467.7,582.7 C468.7,584.7 469.3,588.1 470.2,590.2 C471.0,592.4 473.4,597.8 473.9,599.0"/><path d="M418.9,413.8 C419.4,414.7 420.8,417.6 422.6,420.1 C424.5,422.6 429.6,429.4 432.6,432.6 C435.6,435.8 441.5,441.5 445.1,443.9 C448.8,446.2 456.1,449.0 460.1,450.1 C464.2,451.2 472.5,451.6 475.2,452.1 C477.8,452.6 476.8,454.0 480.2,453.9 C483.5,453.8 497.2,452.4 500.2,451.4 C503.2,450.4 501.2,447.3 502.7,446.4 C504.2,445.5 509.6,444.3 511.4,444.6 C513.3,444.9 514.6,448.4 516.4,448.9 C518.3,449.3 523.4,447.3 525.2,448.1 C527.0,448.9 528.2,454.2 530.2,455.1 C532.2,456.1 538.4,454.9 540.2,455.1 C542.1,455.4 543.3,456.1 544.0,457.1 C544.6,458.1 544.1,461.7 545.2,462.6 C546.4,463.5 550.7,463.2 552.7,463.9 C554.7,464.5 558.2,466.5 560.2,467.6 C562.2,468.8 565.8,471.6 567.7,472.6 C569.7,473.6 574.0,474.8 575.0,475.1"/><path d="M516.4,448.9 C516.9,449.9 519.4,453.7 520.2,456.4 C521.0,459.0 524.0,467.1 522.7,468.9 C521.4,470.6 513.5,469.3 510.2,469.6 C506.9,470.0 498.7,469.6 497.7,471.4 C496.7,473.1 501.4,479.8 502.7,482.6 C504.0,485.5 507.7,490.1 507.7,492.7 C507.7,495.2 504.4,498.9 502.7,501.4 C501.0,503.9 496.8,510.1 495.2,511.4 C493.5,512.8 491.7,511.3 490.2,511.4 C488.7,511.5 485.1,511.3 483.9,512.2 C482.8,513.0 483.9,516.6 481.4,517.7 C478.9,518.7 470.0,519.4 465.2,520.2 C460.3,520.9 450.0,522.6 445.1,523.2 C440.3,523.8 431.0,524.5 428.9,524.7"/><path d="M495.2,511.4 C495.3,512.3 496.1,515.0 496.4,517.7 C496.8,520.3 496.5,530.1 497.7,531.4 C498.8,532.8 502.9,529.2 505.2,527.7 C507.5,526.2 513.4,522.2 515.2,520.2 C517.0,518.2 518.1,514.2 519.0,512.7 C519.8,511.2 520.0,509.1 521.5,508.9 C523.0,508.7 527.4,510.8 530.2,511.4 C533.0,512.1 540.1,513.1 542.7,513.9 C545.4,514.8 548.7,516.5 550.2,517.7 C551.7,518.8 553.3,521.0 554.0,522.7 C554.6,524.3 554.7,528.2 555.2,530.2 C555.7,532.2 557.2,535.9 557.7,537.7 C558.2,539.5 559.3,542.4 559.0,543.9 C558.7,545.4 556.1,547.4 555.2,549.0 C554.4,550.5 553.2,553.4 552.7,555.2 C552.2,557.0 552.1,560.7 551.5,562.7 C550.8,564.7 548.7,568.4 547.7,570.2 C546.7,572.1 544.5,574.5 544.0,576.5 C543.5,578.5 543.6,582.4 544.0,585.2 C544.3,588.1 546.1,596.1 546.5,597.7"/><path d="M542.7,513.9 C543.1,512.9 544.2,508.1 545.2,506.4 C546.2,504.7 547.6,502.6 550.2,501.4 C552.9,500.2 562.9,501.2 565.2,497.7 C567.6,494.2 566.4,478.1 567.7,475.1 C569.0,472.1 574.0,475.1 575.0,475.1"/><path d="M290.0,517.7 C292.0,517.7 301.5,517.2 305.0,517.7 C308.5,518.2 314.4,521.9 316.3,521.4 C318.1,520.9 318.0,514.4 318.8,513.9 C319.5,513.4 321.7,516.5 322.0,517.7 C322.4,518.8 320.0,521.5 321.3,522.7 C322.5,523.8 328.5,525.8 331.3,526.4 C334.1,527.1 340.4,527.8 342.5,527.7 C344.7,527.6 345.9,524.5 347.6,525.7 C349.2,526.8 352.9,533.5 355.1,536.4 C357.2,539.4 360.5,546.4 363.8,547.7 C367.2,549.0 375.6,546.6 380.1,546.4 C384.6,546.3 393.9,546.1 397.6,546.4 C401.3,546.8 405.3,547.9 407.6,549.0 C409.9,550.0 412.8,553.6 415.1,554.0 C417.4,554.3 421.8,551.7 425.1,551.5 C428.5,551.2 436.1,552.1 440.1,552.2 C444.1,552.3 453.1,552.2 455.1,552.2"/></g>
<circle cx="482.2" cy="331.3" r="1.6" fill="#000" stroke="none"/><circle cx="441.4" cy="357.5" r="1.6" fill="#000" stroke="none"/><circle cx="441.9" cy="362.5" r="1.6" fill="#000" stroke="none"/><circle cx="452.1" cy="359.5" r="1.6" fill="#000" stroke="none"/>
<g clip-path="url(#c6)"><path d="M510.0,432.6 C510.7,432.1 513.7,428.7 515.0,428.8 C516.3,429.0 518.0,433.1 520.0,433.8 C522.0,434.6 527.0,434.7 530.0,434.6 C533.0,434.5 539.5,434.0 542.5,433.1 C545.5,432.2 550.2,429.1 552.5,427.6 C554.9,426.1 558.7,422.4 560.0,422.1 C561.4,421.8 562.0,425.4 562.5,425.1 C563.0,424.8 563.1,422.1 563.8,420.1 C564.5,418.1 566.2,411.0 567.6,410.1 C568.9,409.1 572.3,412.6 573.8,413.1 C575.3,413.6 578.0,413.2 578.8,413.8 C579.6,414.4 579.6,417.7 580.1,417.6 C580.6,417.5 581.1,413.7 582.6,413.1 C584.1,412.4 590.0,411.4 591.3,412.6 C592.7,413.8 592.1,421.8 592.6,422.1 C593.1,422.4 593.6,415.4 595.1,414.6 C596.6,413.8 601.8,416.4 603.8,416.3 C605.8,416.2 607.6,414.3 610.1,413.8 C612.6,413.4 619.3,413.5 622.6,413.1 C625.9,412.6 631.4,411.3 635.1,410.6 C638.8,409.8 646.8,408.1 650.1,407.6 C653.5,407.0 657.5,407.0 660.1,406.3 C662.8,405.7 668.1,403.4 670.1,402.6 C672.1,401.7 674.5,401.1 675.1,400.1 C675.8,399.1 674.1,395.7 675.1,395.1 C676.1,394.4 680.8,394.8 682.7,395.1 C684.5,395.3 688.9,397.2 688.9,397.1 C688.9,396.9 684.5,394.7 682.7,393.8 C680.8,392.9 676.3,391.6 675.1,390.1 C674.0,388.6 674.6,384.4 673.9,382.6 C673.2,380.7 671.3,377.6 670.1,376.3 C669.0,375.0 666.1,373.5 665.1,372.5 C664.2,371.5 663.0,369.1 663.1,368.8 C663.3,368.5 664.8,369.7 666.4,370.0 C668.0,370.4 673.0,371.8 675.1,371.3 C677.3,370.8 681.3,367.6 682.7,366.3 C684.0,365.0 684.4,362.5 685.2,361.3 C685.9,360.1 687.8,358.9 688.2,357.5 C688.5,356.2 688.1,352.6 687.7,351.3 C687.3,349.9 686.2,348.4 685.2,347.5 C684.2,346.7 681.5,345.2 680.1,345.0 C678.8,344.9 676.1,345.6 675.1,346.3 C674.1,346.9 673.5,349.2 672.6,350.0 C671.8,350.9 669.6,352.9 668.9,352.5 C668.2,352.2 668.0,349.4 667.6,347.5 C667.3,345.7 666.9,340.6 666.4,338.8 C665.9,336.9 663.7,334.9 663.9,333.8 C664.1,332.7 666.1,331.0 667.6,330.5 C669.1,330.0 673.5,330.6 675.1,330.0 C676.8,329.4 679.1,327.6 680.1,326.3 C681.2,324.9 682.3,320.8 682.7,320.0"/><path d="M650.1,407.6 C650.2,410.9 650.6,425.9 650.6,432.6 C650.7,439.3 650.6,451.3 650.6,457.6 C650.6,464.0 650.7,475.1 650.6,480.1 C650.6,485.1 650.7,491.7 650.1,495.2 C649.6,498.7 647.7,503.6 646.4,506.4 C645.0,509.2 641.9,513.6 640.1,516.4 C638.3,519.3 634.3,524.5 632.6,527.7 C630.9,530.9 628.4,536.9 627.6,540.2 C626.8,543.5 628.0,550.9 626.4,552.7 C624.7,554.5 618.9,553.3 615.1,554.0 C611.3,554.6 600.6,556.5 597.6,557.7 C594.6,558.9 593.1,560.9 592.6,562.7 C592.1,564.5 593.2,569.8 593.8,571.5 C594.4,573.1 596.6,572.7 597.1,575.2 C597.6,577.7 596.5,587.2 597.6,590.2 C598.6,593.2 604.1,596.7 605.1,597.7"/><path d="M650.1,458.9 C648.8,459.4 642.4,461.5 640.1,462.6 C637.8,463.8 634.9,467.0 632.6,467.6 C630.3,468.3 625.6,467.4 622.6,467.6 C619.6,467.9 611.9,468.6 610.1,469.6 C608.3,470.6 608.7,472.9 608.8,475.1 C609.0,477.4 611.5,484.7 611.3,486.4 C611.2,488.1 609.4,488.0 607.6,488.1 C605.8,488.3 600.6,488.2 597.6,487.6 C594.6,487.1 588.1,485.2 585.1,483.9 C582.1,482.6 577.2,479.4 575.1,478.1 C572.9,476.9 570.8,475.8 568.8,474.6 C566.8,473.5 562.2,471.1 560.0,469.6 C557.9,468.2 554.5,464.8 552.5,463.9 C550.5,462.9 546.4,463.6 545.0,462.6 C543.7,461.6 543.9,457.4 542.5,456.4 C541.2,455.4 536.7,455.1 535.0,455.1 C533.4,455.1 531.0,457.2 530.0,456.4 C529.0,455.5 528.8,450.0 527.5,448.9 C526.2,447.8 521.7,448.1 520.0,448.1 C518.3,448.1 516.3,449.3 515.0,448.9 C513.7,448.4 510.7,445.2 510.0,444.6"/><path d="M568.8,474.6 C568.5,476.0 566.8,482.1 566.3,485.1 C565.8,488.2 566.5,495.8 565.0,497.7 C563.5,499.5 557.4,497.9 555.0,498.9 C552.7,499.9 548.9,503.7 547.5,505.2 C546.2,506.7 545.7,509.2 545.0,510.2 C544.4,511.2 545.7,512.8 542.5,512.7 C539.4,512.5 524.4,508.6 521.3,508.9 C518.1,509.2 520.3,513.3 518.8,515.2 C517.3,517.0 511.2,521.7 510.0,522.7"/><path d="M545.0,512.7 C545.7,513.3 548.7,516.0 550.0,517.7 C551.4,519.3 554.0,522.8 555.0,525.2 C556.0,527.5 557.0,532.7 557.5,535.2 C558.0,537.7 559.3,541.9 558.8,543.9 C558.3,545.9 554.8,548.2 553.8,550.2 C552.8,552.2 552.0,556.8 551.3,559.0 C550.6,561.1 549.8,564.3 548.8,566.5 C547.8,568.6 544.6,573.1 543.8,575.2 C542.9,577.4 542.4,580.7 542.5,582.7 C542.7,584.7 544.4,588.2 545.0,590.2 C545.7,592.2 547.2,596.7 547.5,597.7"/><path d="M651.4,480.1 C652.5,479.3 657.3,474.7 660.1,473.9 C663.0,473.1 669.3,473.7 672.6,473.9 C676.0,474.1 683.5,473.0 685.2,475.1 C686.8,477.3 684.5,487.5 685.2,490.1 C685.8,492.8 688.5,494.1 690.2,495.2 C691.8,496.2 695.8,497.7 697.7,498.2 C699.5,498.7 702.6,498.0 703.9,498.9 C705.3,499.8 707.5,502.5 707.7,505.2 C707.8,507.8 704.8,516.6 705.2,518.9 C705.5,521.3 709.0,521.2 710.2,522.7 C711.3,524.2 713.4,527.7 713.9,530.2 C714.4,532.7 714.4,539.1 713.9,541.4 C713.4,543.8 711.8,546.2 710.2,547.7 C708.5,549.2 703.3,551.2 701.4,552.7 C699.6,554.2 697.4,557.0 696.4,559.0 C695.4,561.0 694.6,565.4 693.9,567.7 C693.2,570.1 690.4,575.6 691.4,576.5 C692.4,577.3 698.9,574.0 701.4,574.0 C703.9,574.0 708.5,575.6 710.2,576.5 C711.8,577.3 713.3,578.4 713.9,580.2 C714.6,582.1 715.0,587.7 715.2,590.2 C715.3,592.7 715.2,597.8 715.2,599.0"/><path d="M751.5,320.0 C751.5,321.2 750.5,326.9 751.5,328.8 C752.5,330.6 757.5,332.1 759.0,333.8 C760.5,335.4 762.6,339.3 762.7,341.3 C762.9,343.3 759.2,347.3 760.2,348.8 C761.2,350.3 768.2,351.4 770.2,352.5 C772.2,353.7 773.9,355.9 775.2,357.5 C776.6,359.2 778.9,363.5 780.2,365.0 C781.6,366.5 784.2,367.6 785.2,368.8 C786.2,370.0 786.9,372.3 787.7,373.8 C788.6,375.3 790.5,379.1 791.5,380.1 C792.5,381.1 794.5,381.1 795.0,381.3"/></g>

<g clip-path="url(#c7)"><path d="M751.3,320.0 C751.3,321.2 750.4,326.6 751.3,328.8 C752.1,330.9 756.0,334.8 757.5,336.3 C759.0,337.8 762.2,338.5 762.5,340.0 C762.9,341.5 759.4,346.0 760.0,347.5 C760.7,349.0 765.7,350.3 767.5,351.3 C769.4,352.3 772.6,353.9 773.8,355.0 C775.0,356.2 775.1,358.5 776.3,360.0 C777.5,361.5 780.9,365.1 782.5,366.3 C784.2,367.5 788.1,367.8 788.8,368.8 C789.5,369.8 787.2,372.3 787.6,373.8 C787.9,375.3 790.1,379.5 791.3,380.1 C792.5,380.6 795.1,378.1 796.3,378.1 C797.5,378.1 799.4,378.8 800.1,380.1 C800.7,381.3 800.3,386.3 801.3,387.6 C802.3,388.8 805.9,389.6 807.6,389.6 C809.2,389.5 811.8,386.8 813.8,387.1 C815.8,387.3 820.4,390.1 822.6,391.3 C824.7,392.5 828.1,395.9 830.1,396.3 C832.1,396.8 836.1,394.4 837.6,394.6 C839.1,394.7 840.7,396.3 841.3,397.6 C842.0,398.8 841.4,402.3 842.6,403.8 C843.8,405.3 848.1,407.7 850.1,408.8 C852.1,410.0 855.4,411.4 857.6,412.6 C859.8,413.7 863.4,416.9 866.4,417.6 C869.4,418.3 877.3,417.9 880.1,417.6 C883.0,417.3 886.0,415.8 887.6,415.6 C889.3,415.4 891.6,414.7 892.6,416.3 C893.6,417.9 893.5,426.4 895.1,427.6 C896.8,428.8 903.0,424.9 905.2,425.1 C907.3,425.3 910.2,426.8 911.4,428.8 C912.6,430.8 912.6,438.8 913.9,440.1 C915.2,441.4 920.1,438.2 921.4,438.9 C922.8,439.5 923.4,442.9 923.9,445.1 C924.4,447.3 924.0,454.3 925.2,455.1 C926.3,456.0 932.0,450.4 932.7,451.4 C933.3,452.4 931.5,460.3 930.2,462.6 C928.8,465.0 923.8,467.2 922.7,468.9 C921.5,470.5 920.6,474.5 921.4,475.1 C922.3,475.8 928.1,472.4 928.9,473.9 C929.8,475.4 927.3,483.7 927.7,486.4 C928.0,489.1 930.8,491.7 931.4,493.9 C932.0,496.1 931.5,500.8 932.2,502.7 C932.8,504.5 936.4,505.7 936.4,507.7 C936.5,509.7 933.8,516.0 932.7,517.7 C931.5,519.3 929.7,519.8 927.7,520.2 C925.7,520.5 918.3,519.5 917.7,520.2 C917.0,520.8 922.7,523.5 922.7,525.2 C922.7,526.8 918.7,530.7 917.7,532.7 C916.7,534.7 915.1,537.4 915.2,540.2 C915.2,543.0 917.9,550.8 918.2,554.0 C918.4,557.1 918.1,561.8 917.2,564.0 C916.3,566.1 912.4,568.2 911.4,570.2 C910.4,572.2 910.8,577.5 909.7,579.0 C908.5,580.5 904.6,580.3 902.7,581.5 C900.7,582.6 897.5,586.4 895.1,587.7 C892.8,589.1 886.8,590.5 885.1,591.5 C883.5,592.5 883.8,594.4 882.6,595.2 C881.5,596.1 877.2,597.4 876.4,597.7"/></g>

<g clip-path="url(#c8)"><path d="M137.6,540.0 C137.4,542.0 135.6,550.7 136.3,555.0 C137.0,559.4 141.7,568.9 142.6,572.5 C143.4,576.2 142.1,579.9 142.6,582.5 C143.1,585.2 146.0,589.5 146.3,592.5 C146.7,595.5 144.9,602.7 145.1,605.1 C145.2,607.4 146.7,607.7 147.6,610.1 C148.4,612.4 150.5,620.2 151.3,622.6 C152.2,624.9 152.7,626.1 153.8,627.6 C155.0,629.1 158.1,633.0 160.1,633.8 C162.1,634.7 167.2,633.7 168.8,633.8 C170.5,634.0 172.1,634.9 172.6,635.1"/><path d="M77.5,627.6 C78.8,627.7 85.2,628.5 87.5,628.8 C89.9,629.2 92.4,630.2 95.0,630.1 C97.7,630.0 104.5,628.7 107.5,628.1 C110.5,627.5 113.5,625.9 117.5,625.6 C121.5,625.2 133.1,626.0 137.6,625.6 C142.1,625.2 149.5,623.0 151.3,622.6"/><path d="M172.6,635.1 C173.3,634.9 175.9,635.2 177.6,633.8 C179.3,632.5 182.8,627.6 185.1,625.1 C187.4,622.6 192.8,617.6 195.1,615.1 C197.4,612.6 200.8,608.0 202.6,606.3 C204.5,604.6 207.0,602.7 208.9,602.6 C210.7,602.5 214.4,604.8 216.4,605.6 C218.4,606.3 222.4,606.5 223.9,608.1 C225.4,609.7 226.8,614.3 227.6,617.6 C228.5,620.8 229.5,629.6 230.1,632.6 C230.8,635.6 231.6,638.9 232.6,640.1 C233.6,641.3 235.3,641.3 237.6,641.3 C240.0,641.3 247.0,640.3 250.2,640.1 C253.3,639.9 259.7,640.8 261.4,640.1 C263.1,639.4 262.7,636.9 262.7,635.1 C262.7,633.2 262.4,627.8 261.4,626.3 C260.4,624.8 257.0,624.8 255.2,623.8 C253.3,622.8 248.2,620.0 247.7,618.8 C247.2,617.7 249.7,614.9 251.4,615.1 C253.1,615.2 257.7,619.0 260.2,620.1 C262.7,621.1 267.8,622.5 270.2,623.1 C272.5,623.7 275.3,623.9 277.7,624.6 C280.0,625.2 284.7,627.5 287.7,628.1 C290.7,628.6 297.2,627.7 300.2,628.8 C303.2,629.9 308.0,633.8 310.2,636.3 C312.4,638.8 314.8,646.3 316.5,647.6 C318.1,648.9 320.2,646.5 322.7,646.3 C325.2,646.2 330.9,646.3 335.2,646.3 C339.5,646.3 352.4,646.3 355.0,646.3"/><path d="M172.6,635.1 C172.9,636.4 174.4,642.1 175.1,645.1 C175.8,648.1 176.8,654.3 177.6,657.6 C178.4,660.9 180.3,667.3 181.3,670.1 C182.3,672.9 184.4,676.7 185.1,678.9 C185.8,681.0 185.4,685.0 186.4,686.4 C187.4,687.7 191.4,687.7 192.6,688.9 C193.8,690.0 194.4,693.8 195.1,695.1 C195.8,696.5 197.6,697.2 197.6,698.9 C197.6,700.6 195.8,705.8 195.1,707.6 C194.4,709.5 193.6,711.2 192.6,712.7 C191.6,714.2 189.6,717.1 187.6,718.9 C185.6,720.7 180.3,725.4 177.6,726.4 C174.9,727.4 169.9,726.6 167.6,726.4 C165.3,726.2 162.4,725.0 160.1,725.2 C157.7,725.3 151.4,726.7 150.1,727.7 C148.7,728.7 149.7,730.7 150.1,732.7 C150.4,734.7 152.6,740.0 152.6,742.7 C152.6,745.3 150.7,750.0 150.1,752.7 C149.4,755.4 148.1,759.7 147.6,762.7 C147.1,765.7 146.3,772.5 146.3,775.2 C146.3,777.9 147.6,780.7 147.6,782.7 C147.6,784.7 146.0,788.4 146.3,790.2 C146.7,792.1 148.6,794.8 150.1,796.5 C151.6,798.1 156.2,800.9 157.6,802.7 C158.9,804.6 159.6,808.1 160.1,810.2 C160.6,812.4 161.2,817.8 161.3,819.0"/></g>

<g clip-path="url(#c9)"><path d="M357.6,540.0 C358.4,541.0 360.1,546.7 363.8,547.5 C367.5,548.3 379.6,546.3 385.1,546.3 C390.6,546.3 401.1,546.5 405.1,547.5 C409.1,548.5 412.3,553.3 415.1,553.8 C417.9,554.3 423.0,551.5 426.4,551.3 C429.7,551.0 436.3,551.9 440.1,552.0 C444.0,552.1 453.1,552.0 455.1,552.0"/><path d="M452.6,540.0 C453.1,541.5 456.1,547.6 456.4,551.3 C456.7,554.9 454.3,564.2 455.1,567.5 C456.0,570.9 461.2,574.1 462.7,576.3 C464.2,578.5 465.4,581.8 466.4,583.8 C467.4,585.8 469.0,589.1 470.2,591.3 C471.3,593.5 474.2,597.9 475.2,600.1 C476.2,602.2 477.5,605.6 477.7,607.6 C477.8,609.6 476.9,612.7 476.4,615.1 C475.9,617.4 474.4,622.4 473.9,625.1 C473.4,627.7 473.3,632.2 472.7,635.1 C472.0,637.9 469.4,644.8 468.9,646.3"/><path d="M477.7,607.1 C479.3,606.9 486.7,605.8 490.2,605.6 C493.7,605.3 501.9,604.6 503.9,605.1 C505.9,605.5 505.7,606.8 505.2,608.8 C504.7,610.8 501.5,616.9 500.2,620.1 C498.8,623.2 496.2,629.6 495.2,632.6 C494.2,635.6 492.7,640.6 492.7,642.6 C492.7,644.6 493.8,646.8 495.2,647.6 C496.5,648.4 500.9,649.0 502.7,648.8 C504.5,648.7 507.3,647.3 508.9,646.3 C510.6,645.3 513.0,642.2 515.2,641.3 C517.4,640.5 522.9,640.4 525.2,640.1 C527.5,639.8 531.2,639.7 532.7,638.8 C534.2,638.0 534.5,634.3 536.5,633.8 C538.5,633.3 545.6,634.2 547.7,635.1 C549.9,635.9 551.4,639.1 552.7,640.1 C554.1,641.1 556.1,641.9 557.7,642.6 C559.4,643.3 562.9,643.9 565.2,645.1 C567.5,646.3 573.7,650.5 575.0,651.3"/><path d="M559.0,540.0 C558.8,540.5 558.6,542.4 557.7,543.8 C556.9,545.1 553.6,548.2 552.7,550.0 C551.9,551.8 552.1,555.7 551.5,557.5 C550.8,559.4 548.9,561.4 547.7,563.8 C546.6,566.1 543.2,571.7 542.7,575.0 C542.2,578.4 543.5,586.0 544.0,588.8 C544.5,591.6 545.6,594.6 546.5,596.3 C547.3,598.0 550.1,600.0 550.2,601.3 C550.4,602.6 549.1,605.1 547.7,606.3 C546.4,607.5 541.9,608.9 540.2,610.1 C538.6,611.2 535.5,613.4 535.2,615.1 C534.9,616.7 537.6,620.1 537.7,622.6 C537.9,625.1 536.6,632.3 536.5,633.8"/><path d="M290.0,628.1 C291.7,628.2 300.0,628.1 302.5,628.8 C305.0,629.6 307.4,632.5 308.8,633.8 C310.1,635.2 311.4,637.0 312.5,638.8 C313.7,640.7 315.9,646.6 317.5,647.6 C319.2,648.6 320.4,646.5 325.0,646.3 C329.7,646.2 346.9,646.3 352.6,646.3 C358.2,646.3 363.6,646.7 367.6,646.3 C371.6,646.0 378.6,644.2 382.6,643.8 C386.6,643.5 392.9,643.8 397.6,643.8 C402.3,643.8 413.1,643.5 417.6,643.8 C422.1,644.2 427.7,646.2 431.4,646.3 C435.0,646.5 440.6,645.0 445.1,645.1 C449.6,645.2 462.0,646.9 465.2,647.1 C468.3,647.3 468.4,646.4 468.9,646.3"/><path d="M431.4,646.3 C431.4,647.8 431.0,654.4 431.4,657.6 C431.7,660.8 432.9,666.4 433.9,670.1 C434.9,673.8 437.9,682.1 438.9,685.1 C439.9,688.1 440.4,690.6 441.4,692.6 C442.4,694.6 445.6,697.1 446.4,700.1 C447.2,703.1 447.6,711.7 447.6,715.2 C447.6,718.7 444.7,725.6 446.4,726.4 C448.1,727.2 456.6,722.3 460.1,721.4 C463.7,720.5 469.2,720.1 472.7,719.7 C476.2,719.2 483.8,717.4 486.4,718.2 C489.1,718.9 491.5,723.2 492.7,725.2 C493.8,727.1 494.3,731.9 495.2,732.7 C496.0,733.4 496.3,731.2 498.9,730.7 C501.6,730.2 512.9,731.3 515.2,728.9 C517.5,726.5 515.4,714.3 516.4,712.7 C517.4,711.0 519.9,716.1 522.7,716.4 C525.5,716.7 535.4,714.0 537.7,715.2 C540.1,716.3 539.6,722.8 540.2,725.2 C540.9,727.5 541.7,731.3 542.7,732.7 C543.7,734.0 546.4,736.0 547.7,735.2 C549.1,734.3 551.4,727.9 552.7,726.4 C554.1,724.9 556.1,724.2 557.7,723.9 C559.4,723.6 563.7,725.1 565.2,723.9 C566.7,722.7 567.7,717.2 569.0,715.2 C570.3,713.2 574.2,709.7 575.0,708.9"/><path d="M455.1,819.0 C456.5,817.5 463.3,809.7 465.2,807.7 C467.0,805.7 468.2,807.3 468.9,804.0 C469.6,800.6 469.5,785.7 470.2,782.7 C470.8,779.7 472.6,781.3 473.9,781.5 C475.2,781.6 478.2,783.8 480.2,784.0 C482.2,784.1 487.6,781.9 488.9,782.7 C490.3,783.5 489.0,788.6 490.2,790.2 C491.3,791.9 496.5,795.2 497.7,795.2 C498.8,795.2 498.6,789.9 498.9,790.2 C499.3,790.6 499.0,796.2 500.2,797.7 C501.4,799.2 505.7,801.0 507.7,801.5 C509.7,802.0 513.0,801.3 515.2,801.5 C517.4,801.6 522.5,800.4 524.0,802.7 C525.5,805.1 526.1,816.8 526.5,819.0"/></g>

<g clip-path="url(#c10)"><path d="M558.8,542.5 C558.3,543.2 555.9,546.0 555.0,547.5 C554.2,549.0 553.0,552.3 552.5,553.8 C552.0,555.3 551.6,557.3 551.3,558.8 C551.0,560.3 550.7,563.4 550.0,565.0 C549.4,566.7 547.3,569.6 546.3,571.3 C545.3,572.9 542.9,575.0 542.5,577.5 C542.2,580.0 543.1,587.4 543.8,590.0 C544.4,592.7 546.5,595.7 547.5,597.6 C548.5,599.4 551.6,602.5 551.3,603.8 C551.0,605.1 547.0,606.2 545.0,607.6 C543.0,608.9 537.4,611.8 536.3,613.8 C535.1,615.8 536.4,619.9 536.3,622.6 C536.1,625.2 535.2,632.3 535.0,633.8"/><path d="M535.0,633.8 C534.4,634.5 531.7,637.9 530.0,638.8 C528.3,639.7 524.5,640.3 522.5,640.6 C520.5,640.9 516.7,640.7 515.0,641.3 C513.3,641.9 510.7,644.6 510.0,645.1"/><path d="M535.0,633.8 C536.7,634.0 545.2,634.1 547.5,635.1 C549.9,636.1 550.9,640.3 552.5,641.3 C554.2,642.3 557.7,641.8 560.0,642.6 C562.4,643.4 567.7,646.3 570.1,647.6 C572.4,648.9 575.2,651.1 577.6,652.6 C579.9,654.1 585.6,658.0 587.6,658.9 C589.6,659.7 591.9,658.9 592.6,658.9"/><path d="M627.6,540.0 C627.4,541.5 628.0,549.4 626.4,551.3 C624.7,553.1 619.1,552.8 615.1,553.8 C611.1,554.8 599.3,557.4 596.3,558.8 C593.3,560.1 592.7,562.1 592.6,563.8 C592.4,565.4 594.4,569.4 595.1,571.3 C595.7,573.1 597.2,575.0 597.6,577.5 C597.9,580.0 596.6,587.5 597.6,590.0 C598.6,592.5 603.9,594.0 605.1,596.3 C606.3,598.6 606.7,605.1 606.3,607.6 C606.0,610.1 603.4,613.1 602.6,615.1 C601.7,617.1 600.4,620.2 600.1,622.6 C599.7,624.9 600.1,629.6 600.1,632.6 C600.1,635.6 600.7,641.8 600.1,645.1 C599.4,648.4 596.1,654.6 595.1,657.6 C594.1,660.6 593.4,664.9 592.6,667.6 C591.7,670.3 589.5,675.6 588.8,677.6 C588.2,679.6 587.1,681.7 587.6,682.6 C588.1,683.6 590.6,684.6 592.6,684.6 C594.6,684.7 600.2,683.4 602.6,683.1 C604.9,682.9 608.4,683.7 610.1,682.6 C611.8,681.6 613.4,677.0 615.1,675.1 C616.8,673.3 621.1,670.9 622.6,668.9 C624.1,666.9 625.7,663.3 626.4,660.1 C627.0,656.9 627.3,648.3 627.6,645.1 C627.9,641.9 628.2,638.8 628.9,636.3 C629.5,633.8 631.4,628.5 632.6,626.3 C633.8,624.2 636.6,623.4 637.6,620.1 C638.6,616.7 639.4,604.5 640.1,601.3 C640.8,598.1 641.3,597.1 642.6,596.3 C644.0,595.5 648.6,594.9 650.1,595.5 C651.6,596.2 653.0,599.9 653.9,601.3 C654.7,602.7 656.2,604.5 656.4,606.3 C656.5,608.1 655.5,612.4 655.1,615.1 C654.8,617.7 654.5,623.5 653.9,626.3 C653.2,629.2 651.0,633.7 650.1,636.3 C649.3,639.0 647.6,644.0 647.6,646.3 C647.6,648.7 648.5,652.0 650.1,653.8 C651.8,655.7 657.1,658.3 660.1,660.1 C663.1,661.9 669.3,665.8 672.6,667.6 C676.0,669.4 681.2,672.5 685.2,673.9 C689.2,675.3 698.7,677.1 702.7,678.1 C706.7,679.1 712.5,680.1 715.2,681.4 C717.8,682.6 720.7,685.3 722.7,687.6 C724.7,690.0 727.5,695.7 730.2,698.9 C732.9,702.1 739.4,708.6 742.7,711.4 C746.0,714.2 751.9,717.8 755.2,720.2 C758.6,722.5 764.7,726.9 767.7,728.9 C770.7,730.9 774.1,733.3 777.7,735.2 C781.4,737.0 792.7,741.7 795.0,742.7"/><path d="M595.1,684.6 C594.9,685.9 594.3,692.3 593.8,693.9 C593.3,695.5 592.8,696.7 591.3,696.4 C589.8,696.1 584.1,691.4 582.6,691.4 C581.1,691.4 580.6,694.9 580.1,696.4 C579.6,697.9 579.8,701.1 578.8,702.6 C577.8,704.1 574.1,706.0 572.6,707.6 C571.1,709.3 568.6,713.2 567.6,715.2 C566.5,717.2 566.4,721.5 565.0,722.7 C563.7,723.8 559.4,723.2 557.5,723.9 C555.7,724.6 552.6,726.2 551.3,727.7 C550.0,729.2 548.5,734.5 547.5,735.2 C546.5,735.8 544.8,734.3 543.8,732.7 C542.8,731.0 540.7,725.0 540.0,722.7 C539.4,720.3 539.6,716.0 538.8,715.2 C537.9,714.3 535.6,716.2 533.8,716.4 C531.9,716.6 527.2,716.9 525.0,716.4 C522.8,715.9 518.8,711.2 517.5,712.7 C516.2,714.2 516.5,725.5 515.5,727.7 C514.5,729.8 510.7,728.7 510.0,728.9"/><path d="M660.1,660.1 C660.5,659.9 661.0,659.7 662.6,658.9 C664.3,658.0 670.3,655.0 672.6,653.8 C675.0,652.7 678.8,651.3 680.1,650.1 C681.5,648.9 682.0,646.4 682.7,645.1 C683.3,643.8 684.2,641.1 685.2,640.1 C686.2,639.1 688.8,637.9 690.2,637.6 C691.5,637.3 694.3,638.6 695.2,637.6 C696.0,636.6 696.1,632.7 696.4,630.1 C696.7,627.4 696.5,619.6 697.7,617.6 C698.8,615.6 703.3,615.7 705.2,615.1 C707.0,614.4 710.3,613.9 711.4,612.6 C712.6,611.2 713.4,608.1 713.9,605.1 C714.4,602.1 715.0,593.4 715.2,590.0 C715.3,586.7 715.5,581.7 715.2,580.0 C714.8,578.4 714.3,578.4 712.7,577.5 C711.0,576.7 704.8,574.1 702.7,573.8 C700.5,573.4 697.9,574.6 696.4,575.0 C694.9,575.5 691.7,578.0 691.4,577.0 C691.1,576.0 693.2,570.1 693.9,567.5 C694.6,564.9 695.2,559.5 696.4,557.5 C697.6,555.5 700.8,553.8 702.7,552.5 C704.5,551.2 708.8,549.2 710.2,547.5 C711.6,545.8 712.8,541.0 713.2,540.0"/><path d="M510.0,802.2 C511.0,802.0 516.0,800.2 517.5,800.2 C519.0,800.3 520.4,801.1 521.3,802.7 C522.1,804.4 523.3,810.6 523.8,812.7 C524.3,814.9 524.8,818.2 525.0,819.0"/></g>

<g clip-path="url(#c11)"><path d="M916.4,540.0 C916.7,541.5 918.7,548.3 918.9,551.3 C919.1,554.3 918.8,560.0 917.7,562.5 C916.5,565.0 911.2,567.9 910.2,570.0 C909.1,572.2 910.7,577.1 909.7,578.8 C908.7,580.5 904.6,581.2 902.7,582.5 C900.7,583.9 896.8,587.6 895.1,588.8 C893.5,590.0 891.5,590.8 890.1,591.3 C888.8,591.8 886.0,591.5 885.1,592.5 C884.3,593.5 884.9,598.1 883.9,598.8 C882.9,599.5 879.0,597.2 877.6,597.6 C876.3,597.9 874.7,599.5 873.9,601.3 C873.0,603.1 872.2,609.5 871.4,611.3 C870.5,613.1 867.8,613.6 867.6,615.1 C867.5,616.6 869.5,620.7 870.1,622.6 C870.8,624.4 872.1,627.2 872.6,628.8 C873.1,630.5 874.0,633.7 873.9,635.1 C873.7,636.4 872.5,638.3 871.4,638.8 C870.2,639.3 866.3,637.7 865.1,638.8 C864.0,640.0 863.5,645.6 862.6,647.6 C861.8,649.6 859.7,652.5 858.9,653.8 C858.0,655.2 856.2,657.1 856.4,657.6 C856.5,658.1 858.8,656.8 860.1,657.6 C861.4,658.4 865.2,662.2 866.4,663.9 C867.5,665.5 868.4,667.9 868.9,670.1 C869.4,672.3 870.3,677.8 870.1,680.1 C870.0,682.5 868.6,686.3 867.6,687.6 C866.6,689.0 863.8,689.0 862.6,690.1 C861.4,691.3 859.7,695.6 858.9,696.4 C858.0,697.2 856.9,695.2 856.4,696.4 C855.9,697.6 854.9,702.6 855.1,705.1 C855.3,707.6 856.9,712.5 857.6,715.2 C858.3,717.8 859.4,722.8 860.1,725.2 C860.8,727.5 862.6,730.8 862.6,732.7 C862.6,734.5 861.3,737.9 860.1,738.9 C858.9,739.9 855.4,740.5 853.9,740.2 C852.4,739.8 850.0,736.8 848.9,736.4 C847.7,736.1 846.4,736.8 845.1,737.7 C843.8,738.5 840.2,741.3 838.8,742.7 C837.5,744.0 836.3,746.3 835.1,747.7 C833.9,749.0 830.9,751.0 830.1,752.7 C829.3,754.4 828.8,758.9 828.8,760.2 C828.8,761.5 831.3,761.7 830.1,762.7 C828.9,763.7 821.6,766.2 820.1,767.7 C818.6,769.2 818.5,772.1 818.8,774.0 C819.2,775.8 821.2,779.3 822.6,781.5 C823.9,783.6 827.8,787.7 828.8,790.2 C829.8,792.7 829.8,797.6 830.1,800.2 C830.4,802.9 830.3,807.7 831.3,810.2 C832.3,812.7 836.8,817.8 837.6,819.0"/><path d="M730.0,697.6 C731.3,699.0 736.7,704.8 740.0,707.6 C743.3,710.5 750.4,715.6 755.0,718.9 C759.7,722.2 770.0,729.7 775.0,732.7 C780.0,735.7 788.6,739.4 792.6,741.4 C796.6,743.4 801.7,745.8 805.1,747.7 C808.4,749.5 814.4,753.4 817.6,755.2 C820.7,757.0 827.3,760.6 828.8,761.4"/><path d="M947.7,763.9 C947.0,764.6 943.2,767.4 942.7,769.0 C942.2,770.5 943.3,774.4 943.9,775.2 C944.5,776.0 946.8,775.2 947.2,775.2"/><path d="M947.2,790.2 C946.4,789.9 942.9,788.1 941.4,787.7 C940.0,787.4 937.3,786.4 936.4,787.7 C935.6,789.1 936.2,795.6 935.2,797.7 C934.2,799.9 930.3,802.3 928.9,804.0 C927.5,805.6 924.8,808.2 924.7,810.2 C924.5,812.2 927.3,817.8 927.7,819.0"/></g>

<g clip-path="url(#c12)"><path d="M148.8,760.0 C148.3,762.0 145.2,771.7 145.1,775.0 C144.9,778.3 147.4,782.7 147.6,785.0 C147.7,787.4 145.6,790.5 146.3,792.5 C147.0,794.5 150.9,798.4 152.6,800.0 C154.2,801.7 157.7,802.4 158.8,805.0 C160.0,807.7 160.2,816.5 161.3,820.1 C162.5,823.6 165.9,828.6 167.6,831.3 C169.3,834.0 172.9,837.6 173.8,840.1 C174.8,842.6 174.8,847.1 174.6,850.1 C174.4,853.1 173.2,859.9 172.6,862.6 C172.0,865.3 170.4,866.8 170.1,870.1 C169.8,873.4 169.8,882.9 170.1,887.6 C170.4,892.3 172.6,900.8 172.6,905.1 C172.6,909.5 170.3,916.1 170.1,920.1 C169.9,924.1 170.8,931.8 171.3,935.2 C171.8,938.5 172.3,943.8 173.8,945.2 C175.3,946.5 180.4,944.0 182.6,945.2 C184.8,946.3 188.1,951.9 190.1,953.9 C192.1,955.9 195.9,958.3 197.6,960.2 C199.3,962.0 201.4,966.3 202.6,967.7 C203.8,969.1 204.7,970.6 206.4,970.7 C208.0,970.8 213.3,967.6 215.1,968.2 C217.0,968.8 218.5,972.8 220.1,975.2 C221.8,977.6 225.6,984.1 227.6,986.4 C229.6,988.8 232.8,990.7 235.1,992.7 C237.5,994.7 243.8,1000.3 245.2,1001.5"/><path d="M245.2,1001.5 C246.7,1001.6 254.9,1003.5 256.4,1002.7 C257.9,1001.9 255.2,996.8 256.4,995.2 C257.6,993.6 263.0,991.5 265.2,990.7 C267.3,989.9 271.0,989.9 272.7,989.0 C274.3,988.1 276.0,985.1 277.7,983.9 C279.4,982.8 283.5,982.2 285.2,980.2 C286.9,978.2 288.5,971.2 290.2,968.9 C291.9,966.7 295.5,963.7 297.7,963.2 C299.9,962.6 304.8,963.4 306.5,964.7 C308.1,965.9 308.7,970.1 310.2,972.7 C311.7,975.3 315.4,981.9 317.7,983.9 C320.1,985.9 324.4,987.3 327.7,987.7 C331.1,988.1 339.9,986.8 342.7,987.2 C345.6,987.6 347.4,990.4 349.0,990.7 C350.6,991.0 354.2,989.8 355.0,989.7"/><path d="M245.2,1001.5 C244.5,1002.0 241.8,1004.0 240.1,1005.2 C238.5,1006.4 234.3,1009.1 232.6,1010.2 C231.0,1011.4 228.6,1012.0 227.6,1014.0 C226.6,1016.0 226.0,1023.2 225.1,1025.2 C224.3,1027.2 223.4,1028.2 221.4,1029.0 C219.4,1029.8 211.6,1031.2 210.1,1031.5"/></g>

<g clip-path="url(#c13)"><path d="M290.0,967.7 C291.0,967.0 295.3,963.2 297.5,962.7 C299.7,962.2 304.6,962.6 306.3,963.9 C307.9,965.3 308.8,970.4 310.0,972.7 C311.2,975.0 313.0,979.5 315.0,981.4 C317.0,983.4 321.7,986.5 325.0,987.2 C328.4,987.9 336.7,986.0 340.0,986.4 C343.4,986.9 346.7,990.9 350.1,990.7 C353.4,990.5 361.2,986.3 365.1,985.2 C368.9,984.1 376.3,983.6 378.8,982.2 C381.3,980.8 382.5,976.0 383.8,974.7 C385.2,973.4 387.5,972.5 388.8,972.7 C390.2,972.9 393.0,975.4 393.8,976.4 C394.7,977.5 394.3,979.9 395.1,980.7 C395.9,981.5 398.6,982.6 400.1,982.2 C401.6,981.8 404.7,979.0 406.4,977.7 C408.0,976.4 410.6,974.0 412.6,972.7 C414.6,971.4 418.7,969.2 421.4,967.7 C424.0,966.2 429.4,963.1 432.6,961.4 C435.9,959.8 443.0,955.5 445.6,955.2 C448.3,954.8 450.4,956.8 452.6,958.9 C454.9,961.1 459.6,967.6 462.7,971.4 C465.7,975.3 471.8,985.0 475.2,987.7 C478.5,990.4 484.7,990.8 487.7,991.5 C490.7,992.1 494.7,992.0 497.7,992.7 C500.7,993.4 506.5,995.1 510.2,996.5 C513.9,997.8 521.2,1001.2 525.2,1002.7 C529.2,1004.2 536.5,1006.5 540.2,1007.7 C543.9,1008.9 549.4,1010.6 552.7,1011.5 C556.1,1012.3 562.3,1013.3 565.2,1014.0 C568.2,1014.6 573.7,1016.1 575.0,1016.5"/><path d="M471.4,781.3 C472.6,781.7 477.8,784.3 480.2,784.5 C482.5,784.8 487.6,782.1 488.9,783.0 C490.3,783.9 489.0,789.5 490.2,791.3 C491.3,793.0 496.5,796.4 497.7,796.3 C498.8,796.1 498.6,789.7 498.9,790.0 C499.3,790.4 498.7,797.1 500.2,798.8 C501.7,800.5 507.9,802.2 510.2,802.5 C512.5,802.9 515.9,801.1 517.7,801.3 C519.5,801.5 523.0,802.0 524.0,803.8 C525.0,805.6 524.7,811.9 525.2,815.0 C525.7,818.2 527.7,823.6 527.7,827.6 C527.7,831.6 526.5,842.1 525.2,845.1 C523.9,848.1 518.5,847.4 517.7,850.1 C516.9,852.7 518.5,861.4 519.0,865.1 C519.5,868.8 520.0,875.6 521.5,877.6 C523.0,879.6 528.5,878.4 530.2,880.1 C531.9,881.8 532.8,887.3 534.0,890.1 C535.1,892.9 538.8,898.4 539.0,901.4 C539.1,904.4 536.0,910.1 535.2,912.6 C534.4,915.1 533.9,918.6 532.7,920.1 C531.5,921.6 527.8,923.8 526.5,923.9 C525.1,924.0 523.9,921.0 522.7,920.6 C521.5,920.3 519.4,922.0 517.7,921.4 C516.0,920.8 512.2,917.9 510.2,916.4 C508.2,914.9 503.9,911.8 502.7,910.1 C501.5,908.5 502.1,904.4 501.4,903.9 C500.8,903.4 499.7,905.7 497.7,906.4 C495.7,907.0 488.8,909.4 486.4,908.9 C484.1,908.4 481.3,904.0 480.2,902.6 C479.0,901.3 476.8,900.7 477.7,898.9 C478.5,897.0 485.8,891.4 486.4,888.9 C487.1,886.4 483.7,882.6 482.7,880.1 C481.7,877.6 479.9,872.3 478.9,870.1 C477.9,867.9 475.5,865.3 475.2,863.8 C474.8,862.3 477.6,860.2 476.4,858.8 C475.2,857.5 468.6,855.5 466.4,853.8 C464.2,852.2 461.5,846.8 460.1,846.3 C458.8,845.8 456.9,849.1 456.4,850.1 C455.9,851.1 457.2,853.2 456.4,853.8 C455.6,854.4 451.0,855.8 450.1,854.6 C449.3,853.4 449.6,847.7 450.1,845.1 C450.6,842.5 454.1,836.6 453.9,835.1 C453.7,833.6 449.7,835.1 448.9,833.8 C448.1,832.5 447.3,826.9 448.1,825.1 C449.0,823.2 453.2,821.7 455.1,820.1 C457.1,818.4 460.8,814.4 462.7,812.5 C464.5,810.7 468.0,808.6 468.9,806.3 C469.8,804.0 469.3,798.4 469.7,795.0 C470.0,791.7 471.2,783.1 471.4,781.3"/></g>

<g clip-path="url(#c14)"><path d="M510.0,801.3 C511.0,801.1 515.7,799.7 517.5,800.0 C519.3,800.4 522.8,801.8 523.8,803.8 C524.8,805.8 524.5,811.9 525.0,815.0 C525.5,818.2 527.5,823.9 527.5,827.6 C527.5,831.2 525.8,839.7 525.0,842.6 C524.2,845.4 522.3,848.0 521.3,848.8 C520.3,849.7 517.8,846.7 517.5,848.8 C517.2,851.0 518.3,861.3 518.8,865.1 C519.3,868.9 519.9,875.6 521.3,877.6 C522.6,879.6 527.3,879.1 528.8,880.1 C530.3,881.1 531.9,883.4 532.5,885.1 C533.2,886.8 532.9,890.4 533.8,892.6 C534.6,894.8 538.6,899.0 538.8,901.4 C538.9,903.7 535.9,907.6 535.0,910.1 C534.2,912.6 533.7,918.3 532.5,920.1 C531.4,922.0 527.6,923.7 526.3,923.9 C524.9,924.1 523.8,921.9 522.5,921.4 C521.2,920.9 517.9,920.8 516.3,920.1 C514.6,919.5 510.8,916.9 510.0,916.4"/><path d="M795.0,915.1 C793.7,915.2 787.2,916.0 785.2,915.6 C783.3,915.2 782.6,912.7 780.2,912.1 C777.9,911.6 771.7,911.2 767.7,911.4 C763.7,911.5 754.5,913.3 750.2,913.1 C745.9,913.0 738.2,910.7 735.2,910.1 C732.2,909.6 729.4,909.4 727.7,908.9 C726.0,908.4 725.0,906.7 722.7,906.4 C720.4,906.0 713.2,905.9 710.2,906.4 C707.2,906.8 703.2,908.7 700.2,909.6 C697.2,910.5 691.0,912.7 687.7,913.1 C684.3,913.6 677.6,912.9 675.1,913.1 C672.6,913.4 669.9,914.2 668.9,915.1 C667.9,916.1 667.1,918.6 667.6,920.1 C668.1,921.6 671.6,924.7 672.6,926.4 C673.6,928.1 675.1,930.8 675.1,932.7 C675.1,934.5 673.8,938.3 672.6,940.2 C671.5,942.0 667.7,944.1 666.4,946.4 C665.1,948.7 663.8,954.2 663.1,957.7 C662.5,961.2 661.9,969.7 661.4,972.7 C660.8,975.7 660.4,978.5 658.9,980.2 C657.4,981.9 652.3,983.5 650.1,985.2 C648.0,986.9 643.8,990.7 642.6,992.7 C641.4,994.7 640.9,997.9 641.4,1000.2 C641.9,1002.5 644.5,1007.7 646.4,1010.2 C648.2,1012.7 653.1,1017.0 655.1,1019.0 C657.1,1021.0 660.0,1023.6 661.4,1025.2 C662.7,1026.9 664.6,1030.7 665.1,1031.5"/><path d="M641.4,1000.2 C639.9,1000.7 633.6,1002.8 630.1,1004.0 C626.6,1005.1 618.4,1007.5 615.1,1009.0 C611.8,1010.5 608.4,1014.1 605.1,1015.2 C601.7,1016.4 594.1,1017.6 590.1,1017.7 C586.1,1017.9 579.1,1017.1 575.1,1016.5 C571.1,1015.8 563.7,1013.6 560.0,1012.7 C556.4,1011.9 550.9,1011.1 547.5,1010.2 C544.2,1009.4 538.4,1007.6 535.0,1006.5 C531.7,1005.3 525.8,1002.6 522.5,1001.5 C519.2,1000.3 511.7,998.2 510.0,997.7"/></g>

<g clip-path="url(#c15)"><path d="M828.8,760.0 C827.7,760.8 821.4,764.6 820.1,766.3 C818.7,767.9 818.5,770.7 818.8,772.5 C819.2,774.3 821.2,778.0 822.6,780.0 C823.9,782.0 827.7,785.5 828.8,787.5 C830.0,789.5 831.2,792.5 831.3,795.0 C831.5,797.5 829.6,803.6 830.1,806.3 C830.6,809.0 833.4,812.7 835.1,815.0 C836.8,817.4 841.1,821.5 842.6,823.8 C844.1,826.1 845.4,829.2 846.4,832.6 C847.4,835.9 848.9,847.0 850.1,848.8 C851.3,850.7 853.1,847.2 855.1,846.3 C857.1,845.5 862.8,843.5 865.1,842.6 C867.5,841.7 871.8,839.1 872.6,839.6 C873.5,840.1 871.5,844.3 871.4,846.3 C871.2,848.4 871.4,853.9 871.4,855.1"/><path d="M871.4,855.1 C871.0,856.4 870.0,862.4 868.9,865.1 C867.7,867.8 864.8,872.3 862.6,875.1 C860.4,877.9 855.3,883.9 852.6,886.4 C849.9,888.9 844.9,892.4 842.6,893.9 C840.3,895.4 837.4,897.3 835.1,897.6 C832.8,898.0 827.8,896.5 825.1,896.4 C822.4,896.2 817.2,895.7 815.1,896.4 C812.9,897.0 810.0,899.5 808.8,901.4 C807.7,903.2 807.8,908.5 806.3,910.1 C804.8,911.8 800.1,913.1 797.6,913.9 C795.1,914.7 789.7,916.4 787.6,916.4 C785.4,916.4 783.0,914.6 781.3,913.9 C779.6,913.2 777.9,911.5 775.0,911.4 C772.2,911.2 764.0,912.4 760.0,912.6 C756.0,912.9 749.0,913.4 745.0,913.1 C741.0,912.9 732.0,911.0 730.0,910.6"/><path d="M871.4,855.1 C872.5,856.1 877.6,860.3 880.1,862.6 C882.6,864.9 886.8,869.6 890.1,872.6 C893.5,875.6 901.5,882.4 905.2,885.1 C908.8,887.8 915.3,890.6 917.7,892.6 C920.0,894.6 922.7,897.8 922.7,900.1 C922.7,902.5 918.5,907.8 917.7,910.1 C916.8,912.5 917.4,915.3 916.4,917.6 C915.4,920.0 911.7,925.6 910.2,927.6 C908.6,929.6 905.2,931.3 904.7,932.7 C904.2,934.0 905.0,936.3 906.4,937.7 C907.8,939.0 912.7,941.2 915.2,942.7 C917.7,944.2 922.2,947.7 925.2,948.9 C928.2,950.1 935.0,950.6 937.7,951.4 C940.4,952.3 943.9,954.0 945.2,955.2 C946.5,956.3 946.9,959.5 947.2,960.2"/><path d="M947.2,762.5 C946.6,763.2 943.1,766.0 942.7,767.5 C942.3,769.0 943.3,772.8 943.9,773.8 C944.5,774.8 946.8,774.8 947.2,775.0"/></g>

<path d="M948.0,791.6 C947.6,791.3 944.8,789.4 944.0,789.0 C943.2,788.6 940.9,787.6 940.2,787.5 C939.6,787.4 938.0,787.0 937.5,787.5 C937.0,788.0 935.8,791.2 935.5,792.0 C935.2,792.8 935.4,794.7 935.0,795.5 C934.6,796.3 932.3,799.4 931.5,800.3 C930.7,801.2 927.8,803.6 927.0,804.5 C926.2,805.4 924.0,808.3 923.9,809.6 C923.8,810.9 925.7,816.3 926.2,817.8 C926.7,819.3 928.9,823.0 929.1,824.8 C929.3,826.5 928.5,833.2 928.6,835.3 C928.7,837.4 930.1,844.2 929.7,845.8 C929.3,847.4 925.7,850.3 925.0,851.0 C924.3,851.7 922.8,852.2 922.7,852.7 C922.7,853.2 923.7,856.0 924.5,856.5 C925.3,857.0 929.9,856.8 930.3,857.4 C930.6,858.0 928.8,861.7 928.0,862.5 C927.2,863.3 922.4,865.1 922.1,865.6 C921.8,866.1 924.5,867.2 925.0,867.5 C925.5,867.8 927.8,868.1 927.5,868.5 C927.2,868.9 922.2,870.6 921.6,871.4 C921.0,872.1 920.7,875.3 921.0,876.0 C921.3,876.7 924.4,877.9 924.5,878.5 C924.6,879.1 922.3,881.7 922.1,882.5 C921.9,883.3 921.9,885.8 922.5,886.5 C923.1,887.2 928.0,889.0 928.0,889.5 C928.0,890.0 924.3,891.6 923.0,891.5 C921.7,891.4 916.7,889.4 915.2,888.9 C913.7,888.4 908.7,886.3 908.0,886.0"/>
<path d="M948.0,971.3 C947.8,971.4 945.9,971.8 945.5,972.2 C945.1,972.6 944.5,974.2 944.4,975.1 C944.2,976.0 944.1,979.6 944.0,980.8 C943.9,981.9 943.5,985.5 943.3,986.6 C943.0,987.7 941.8,991.0 941.5,991.6 C941.2,992.2 940.5,993.1 940.1,993.0 C939.8,992.9 938.4,991.1 938.0,990.9 C937.6,990.7 936.5,990.9 936.2,991.2 C935.9,991.5 935.3,993.2 935.1,993.7 C934.9,994.2 934.1,995.9 934.0,996.6 C933.9,997.3 934.0,1000.1 934.0,1000.9 C934.0,1001.7 934.5,1003.9 934.4,1004.5 C934.3,1005.1 933.7,1006.9 933.3,1007.4 C932.9,1007.9 930.9,1008.9 930.8,1009.5 C930.7,1010.1 931.8,1012.5 932.2,1013.1 C932.6,1013.7 933.9,1015.0 934.4,1015.3 C934.9,1015.6 936.6,1016.0 937.2,1016.3 C937.8,1016.6 940.1,1017.6 940.8,1018.1 C941.4,1018.6 943.1,1020.4 943.7,1021.0 C944.3,1021.6 946.2,1023.5 946.6,1023.9 C947.0,1024.3 947.9,1024.9 948.0,1025.0"/>
<path d="M948.0,990.2 C947.7,990.3 945.4,991.2 945.1,991.6 C944.8,992.0 944.7,993.7 944.8,994.1 C944.9,994.5 945.5,995.4 945.8,995.5 C946.1,995.6 947.8,995.2 948.0,995.2"/>
<path d="M77.8,311.0 C78.0,311.2 79.6,312.5 80.2,312.7 C80.8,312.9 82.9,312.4 83.7,312.7 C84.5,313.0 87.2,315.8 87.9,315.9 C88.6,316.0 90.4,314.6 90.7,314.1 C91.0,313.6 90.3,311.7 90.7,311.0 C91.1,310.3 93.7,308.2 94.3,307.5 C94.9,306.8 95.9,304.7 96.4,304.0 C96.9,303.3 98.6,301.4 99.2,300.8 C99.8,300.2 102.1,298.8 102.7,298.3 C103.3,297.8 104.4,295.9 104.8,295.5 C105.2,295.1 106.6,294.1 106.9,294.5 C107.2,294.9 107.5,297.7 107.6,299.0 C107.7,300.3 107.2,306.9 107.6,307.5 C107.9,308.1 110.6,305.9 111.1,304.7 C111.6,303.5 112.9,296.6 112.9,295.5 C112.9,294.4 111.5,293.5 111.1,293.4 C110.7,293.3 109.3,293.5 109.0,294.1 C108.7,294.7 108.3,297.9 108.3,299.0 C108.3,300.1 108.7,304.6 109.0,304.7 C109.3,304.8 111.1,300.6 111.5,300.0 C111.9,299.4 112.8,298.4 113.2,298.3 C113.6,298.2 115.1,298.4 115.3,299.0 C115.5,299.6 115.3,303.0 115.3,304.0 C115.3,305.0 114.9,308.2 115.3,308.9 C115.7,309.6 119.0,311.1 119.5,311.0 C120.0,310.9 119.6,308.7 120.2,308.2 C120.8,307.7 124.3,306.2 125.2,306.1 C126.1,306.0 128.6,306.8 129.4,306.8 C130.2,306.8 132.8,305.6 133.6,305.7 C134.4,305.8 136.5,307.0 137.1,307.5 C137.7,308.0 139.1,309.6 139.2,310.3 C139.3,311.0 138.2,313.7 138.1,314.5 C138.0,315.3 138.2,317.7 138.5,318.7 C138.8,319.7 140.2,323.2 140.6,324.3 C141.0,325.4 142.8,329.4 143.0,330.0"/></g>
<line x1="945.7" y1="995.5" x2="945.7" y2="1031" stroke="#333" stroke-width="0.9"/><defs><clipPath id="axclip"><rect x="78" y="110" width="869" height="921.5"/></clipPath></defs><rect clip-path="url(#axclip)" x="452.6" y="976.6" width="510" height="70" fill="rgba(0,0,0,0.40)" stroke="rgba(0,0,0,0.40)" stroke-width="2.6"/>
<text x="469.6" y="1011.8" style="fill:#fff;font-size:26.8px">&#169;</text><text x="490.8" y="1010.3" style="fill:#fff;font-size:24.37px">Sub Bidang Prediksi Cuaca BMKG, 2022</text>
</g>
<rect x="76.5" y="108.5" width="871.9" height="923.8" fill="none" stroke="#000" stroke-width="2.8"/>
<text x="67.2" y="333" class="tk" text-anchor="end">6°S</text>
<text x="67.2" y="773" class="tk" text-anchor="end">6.5°S</text>
<text x="235.9" y="1055" class="tk" text-anchor="middle">106.5°E</text>
<text x="675.9" y="1055" class="tk" text-anchor="middle">107°E</text>
<rect x="985.50" y="108.50" width="22.95" height="41.80" fill="#e8341f"/>
<rect x="985.50" y="149.80" width="22.95" height="70.50" fill="#f0654f"/>
<rect x="985.50" y="219.80" width="22.95" height="70.50" fill="#f99582"/>
<rect x="985.50" y="289.80" width="22.95" height="70.50" fill="#ffdcc7"/>
<rect x="985.50" y="359.80" width="22.95" height="70.50" fill="#c99c05"/>
<rect x="985.50" y="429.80" width="22.95" height="70.50" fill="#dcae0e"/>
<rect x="985.50" y="499.80" width="22.95" height="70.50" fill="#ebc518"/>
<rect x="985.50" y="569.80" width="22.95" height="70.50" fill="#f0cf3e"/>
<rect x="985.50" y="639.80" width="22.95" height="70.50" fill="#f4d862"/>
<rect x="985.50" y="709.80" width="22.95" height="70.50" fill="#f8e07c"/>
<rect x="985.50" y="779.80" width="22.95" height="70.50" fill="#fdeb98"/>
<rect x="985.50" y="849.80" width="22.95" height="70.50" fill="#5afa5a"/>
<rect x="985.50" y="919.80" width="22.95" height="70.50" fill="#98f898"/>
<rect x="988.3" y="991.00" width="17.4" height="38.60" fill="#f9f9f9"/>
<rect x="985.50" y="108.50" width="22.95" height="923.85" fill="none" stroke="#000" stroke-width="2.8"/>
<line x1="1008.45" y1="150.4" x2="1020.6" y2="150.4" stroke="#000" stroke-width="2.7"/>
<text x="1033" y="158.2" class="cb">38.0</text>
<line x1="1008.45" y1="220.4" x2="1020.6" y2="220.4" stroke="#000" stroke-width="2.7"/>
<text x="1033" y="228.2" class="cb">37.0</text>
<line x1="1008.45" y1="290.4" x2="1020.6" y2="290.4" stroke="#000" stroke-width="2.7"/>
<text x="1033" y="298.2" class="cb">36.0</text>
<line x1="1008.45" y1="360.4" x2="1020.6" y2="360.4" stroke="#000" stroke-width="2.7"/>
<text x="1033" y="368.2" class="cb">35.0</text>
<line x1="1008.45" y1="430.4" x2="1020.6" y2="430.4" stroke="#000" stroke-width="2.7"/>
<text x="1033" y="438.2" class="cb">33.0</text>
<line x1="1008.45" y1="500.4" x2="1020.6" y2="500.4" stroke="#000" stroke-width="2.7"/>
<text x="1033" y="508.2" class="cb">30.0</text>
<line x1="1008.45" y1="570.4" x2="1020.6" y2="570.4" stroke="#000" stroke-width="2.7"/>
<text x="1033" y="578.2" class="cb">28.0</text>
<line x1="1008.45" y1="640.4" x2="1020.6" y2="640.4" stroke="#000" stroke-width="2.7"/>
<text x="1033" y="648.2" class="cb">26.0</text>
<line x1="1008.45" y1="710.4" x2="1020.6" y2="710.4" stroke="#000" stroke-width="2.7"/>
<text x="1033" y="718.2" class="cb">24.0</text>
<line x1="1008.45" y1="780.4" x2="1020.6" y2="780.4" stroke="#000" stroke-width="2.7"/>
<text x="1033" y="788.2" class="cb">22.0</text>
<line x1="1008.45" y1="850.4" x2="1020.6" y2="850.4" stroke="#000" stroke-width="2.7"/>
<text x="1033" y="858.2" class="cb">20.0</text>
<line x1="1008.45" y1="920.4" x2="1020.6" y2="920.4" stroke="#000" stroke-width="2.7"/>
<text x="1033" y="928.2" class="cb">18.0</text>
<line x1="1008.45" y1="990.4" x2="1020.6" y2="990.4" stroke="#000" stroke-width="2.7"/>
<text x="1033" y="998.2" class="cb">16.0</text>
<text x="76" y="1085.6" class="t24">Model: WRF 10 km</text>
<text x="340" y="1085.6" class="t24 b i" style="fill:#ff0000">Min Value: 10</text>
<text x="538" y="1085.6" class="t24 b i" style="fill:#0000ff">Max Value: 27</text>
<text x="745" y="1085.6" class="t24">Source: WRF-CIPS BMKG</text>
</svg>
</body></html>
